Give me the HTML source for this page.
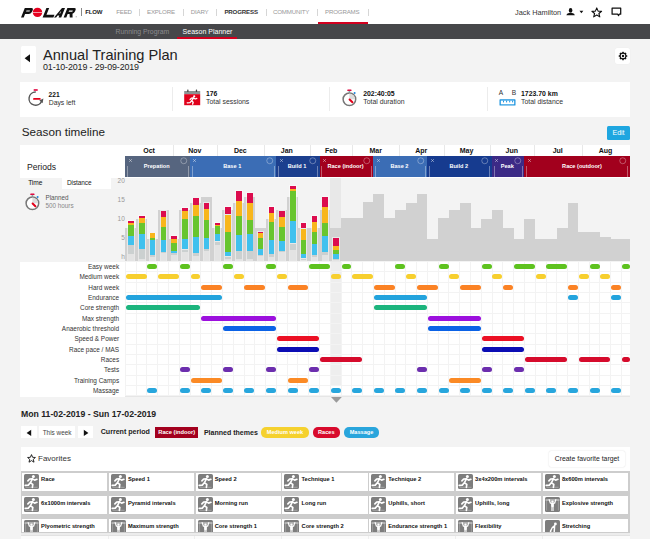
<!DOCTYPE html>
<html><head><meta charset="utf-8"><style>
html,body{margin:0;padding:0;}
body{width:650px;height:539px;overflow:hidden;position:relative;background:#f3f3f3;font-family:"Liberation Sans",sans-serif;}
.t{position:absolute;white-space:nowrap;}
.r{position:absolute;}
svg.r{overflow:visible;}
</style></head><body>
<div class="r" style="left:0.00px;top:0.00px;width:650.00px;height:24.00px;background:#ffffff;"></div>
<svg class="r" style="left:18.00px;top:7.90px;" width="64" height="10" viewBox="0 0 64 10">
<g transform="translate(0,9.4) skewX(-22) translate(0,-9.4)" fill="#111">
<path d="M3 0 H9.6 Q11.8 0 11.8 2.4 V3.6 Q11.8 6 9.6 6 H5.7 V9.4 H3 Z M5.7 2.5 V3.6 H9.2 V2.5 Z" fill-rule="evenodd"/>
<path d="M24.6 0 H27.4 V6.7 H35.4 V9.4 H24.6 Z"/>
<path d="M36 9.4 L40.2 0 H43.2 V9.4 H40.6 V7.6 H38.9 L38.1 9.4 Z M39.6 5.4 H40.6 V2.8 Z" fill-rule="evenodd"/>
<path d="M45.6 0 H52.6 Q54.6 0 54.6 2.3 V3.3 Q54.6 5.3 53 5.7 L54.6 9.4 H51.8 L50.2 6 H48.3 V9.4 H45.6 Z M48.3 2.4 V3.7 H52 V2.4 Z" fill-rule="evenodd"/>
</g>
<circle cx="19.5" cy="4.4" r="4.7" fill="#e5001f"/>
<rect x="14.6" y="4.1" width="9.8" height="0.6" fill="#fff"/>
<circle cx="58.2" cy="8.8" r="0.55" fill="#888"/>
</svg>
<div class="r" style="left:81.10px;top:8.20px;width:0.60px;height:7.60px;background:#888;"></div>
<div class="t" style="left:85.30px;top:9.18px;font-size:6.05px;line-height:6.05px;font-weight:700;color:#222;letter-spacing:-0.2px;">FLOW</div>
<div class="t" style="left:116.20px;top:9.09px;font-size:6.15px;line-height:6.15px;font-weight:400;color:#999;letter-spacing:-0.17px;">FEED</div>
<div class="t" style="left:147.00px;top:9.09px;font-size:6.15px;line-height:6.15px;font-weight:400;color:#999;letter-spacing:-0.17px;">EXPLORE</div>
<div class="t" style="left:190.70px;top:9.09px;font-size:6.15px;line-height:6.15px;font-weight:400;color:#999;letter-spacing:-0.17px;">DIARY</div>
<div class="t" style="left:224.40px;top:9.09px;font-size:6.15px;line-height:6.15px;font-weight:700;color:#333;letter-spacing:-0.17px;">PROGRESS</div>
<div class="t" style="left:272.90px;top:9.09px;font-size:6.15px;line-height:6.15px;font-weight:400;color:#999;letter-spacing:-0.17px;">COMMUNITY</div>
<div class="t" style="left:325.00px;top:9.09px;font-size:6.15px;line-height:6.15px;font-weight:400;color:#999;letter-spacing:-0.17px;">PROGRAMS</div>
<div class="r" style="left:139.30px;top:8.50px;width:0.70px;height:7.00px;background:#d6d6d6;"></div>
<div class="r" style="left:182.80px;top:8.50px;width:0.70px;height:7.00px;background:#d6d6d6;"></div>
<div class="r" style="left:216.00px;top:8.50px;width:0.70px;height:7.00px;background:#d6d6d6;"></div>
<div class="r" style="left:265.50px;top:8.50px;width:0.70px;height:7.00px;background:#d6d6d6;"></div>
<div class="r" style="left:317.20px;top:8.50px;width:0.70px;height:7.00px;background:#d6d6d6;"></div>
<div class="r" style="left:367.70px;top:8.50px;width:0.70px;height:7.00px;background:#d6d6d6;"></div>
<div class="r" style="left:318.00px;top:22.20px;width:49.50px;height:1.80px;background:#d3001f;"></div>
<div class="t" style="left:515.00px;top:8.78px;font-size:7.35px;line-height:7.35px;font-weight:400;color:#333;">Jack Hamilton</div>
<svg class="r" style="left:566.00px;top:8.20px;" width="10" height="8" viewBox="0 0 10 8"><ellipse cx="4.6" cy="2.4" rx="1.8" ry="2.3" fill="#111"/><path d="M0.4 7.2 Q0.6 5.2 3 4.9 L6.2 4.9 Q8.6 5.2 8.8 7.2 Z" fill="#111"/></svg>
<svg class="r" style="left:578.60px;top:10.00px;" width="5" height="4" viewBox="0 0 5 4"><path d="M0.5 0.8 L4.3 0.8 L2.4 3.2 Z" fill="#111"/></svg>
<svg class="r" style="left:591.00px;top:6.80px;" width="11.5" height="10.5" viewBox="0 0 11.5 10.5"><path d="M5.75 0.9 L7.1 4.1 L10.6 4.3 L7.9 6.5 L8.8 9.9 L5.75 8 L2.7 9.9 L3.6 6.5 L0.9 4.3 L4.4 4.1 Z" fill="none" stroke="#111" stroke-width="1.1" stroke-linejoin="round"/></svg>
<svg class="r" style="left:611.00px;top:7.00px;" width="11.5" height="10" viewBox="0 0 11.5 10"><path d="M1.1 1.1 H9.7 V7.2 H8.2 L7.6 8.6 L6.6 7.2 H1.1 Z" fill="none" stroke="#111" stroke-width="1.25" stroke-linejoin="round"/></svg>
<div class="r" style="left:0.00px;top:24.00px;width:650.00px;height:14.50px;background:#46474a;"></div>
<div class="t" style="left:115.60px;top:28.50px;font-size:6.85px;line-height:6.85px;font-weight:400;color:#8a8b8e;">Running Program</div>
<div class="t" style="left:182.60px;top:28.37px;font-size:7.0px;line-height:7.0px;font-weight:400;color:#ffffff;">Season Planner</div>
<div class="r" style="left:177.00px;top:37.00px;width:59.70px;height:1.50px;background:#d3001f;"></div>
<div class="r" style="left:20.50px;top:45.50px;width:15.00px;height:27.00px;background:#ffffff;border-radius:1.5px;"></div>
<svg class="r" style="left:24.00px;top:54.00px;" width="6.5" height="8.5" viewBox="0 0 6.5 8.5"><path d="M6 0.3 L6 8.2 L0.6 4.25 Z" fill="#111"/></svg>
<div class="t" style="left:43.00px;top:47.84px;font-size:14.6px;line-height:14.6px;font-weight:400;color:#222;">Annual Training Plan</div>
<div class="t" style="left:43.00px;top:62.57px;font-size:8.9px;line-height:8.9px;font-weight:400;color:#222;letter-spacing:-0.12px;">01-10-2019 - 29-09-2019</div>
<div class="r" style="left:615.00px;top:48.40px;width:15.00px;height:15.60px;background:#ffffff;border-radius:2px;box-shadow:0 0 1px rgba(0,0,0,0.08);"></div>
<svg class="r" style="left:615.00px;top:48.00px;" width="16" height="16" viewBox="0 0 16 16"><g transform="translate(8,8)"><rect x="-0.8" y="-4.3" width="1.6" height="1.6" rx="0.4" fill="#111" transform="rotate(0)"/><rect x="-0.8" y="-4.3" width="1.6" height="1.6" rx="0.4" fill="#111" transform="rotate(45)"/><rect x="-0.8" y="-4.3" width="1.6" height="1.6" rx="0.4" fill="#111" transform="rotate(90)"/><rect x="-0.8" y="-4.3" width="1.6" height="1.6" rx="0.4" fill="#111" transform="rotate(135)"/><rect x="-0.8" y="-4.3" width="1.6" height="1.6" rx="0.4" fill="#111" transform="rotate(180)"/><rect x="-0.8" y="-4.3" width="1.6" height="1.6" rx="0.4" fill="#111" transform="rotate(225)"/><rect x="-0.8" y="-4.3" width="1.6" height="1.6" rx="0.4" fill="#111" transform="rotate(270)"/><rect x="-0.8" y="-4.3" width="1.6" height="1.6" rx="0.4" fill="#111" transform="rotate(315)"/><circle r="2.9" fill="none" stroke="#111" stroke-width="1.1"/><circle r="1.2" fill="#111"/></g></svg>
<div class="r" style="left:20.30px;top:82.40px;width:609.40px;height:34.50px;background:#ffffff;"></div>
<div class="r" style="left:172.30px;top:87.40px;width:0.70px;height:23.60px;background:#ececec;"></div>
<div class="r" style="left:329.40px;top:87.40px;width:0.70px;height:23.60px;background:#ececec;"></div>
<div class="r" style="left:487.40px;top:87.40px;width:0.70px;height:23.60px;background:#ececec;"></div>
<svg class="r" style="left:27.00px;top:88.00px;" width="17" height="19" viewBox="0 0 17 19">
<rect x="6.7" y="1.2" width="4" height="1.6" fill="#e2003c"/>
<path d="M8.8 4 A6.6 6.6 0 1 0 14.6 13.4" fill="none" stroke="#555" stroke-width="1.4"/>
<path d="M12.3 12.6 L16.4 10.6 L15.6 15.2 Z" fill="#555"/>
<path d="M7 10.9 H12.8" stroke="#e2001a" stroke-width="1.9" stroke-linecap="round"/>
</svg>
<div class="t" style="left:48.50px;top:91.53px;font-size:6.7px;line-height:6.7px;font-weight:700;color:#111;">221</div>
<div class="t" style="left:48.70px;top:99.50px;font-size:6.85px;line-height:6.85px;font-weight:400;color:#333;">Days left</div>
<svg class="r" style="left:184.00px;top:89.00px;" width="16.5" height="16.5" viewBox="0 0 16.5 16.5">
<rect x="0.2" y="2" width="16" height="3.3" fill="#8a9393"/>
<rect x="3.2" y="0.5" width="1.3" height="2.6" rx="0.5" fill="#444"/>
<rect x="11.8" y="0.5" width="1.3" height="2.6" rx="0.5" fill="#444"/>
<rect x="0.2" y="5.2" width="16" height="11" fill="#e0001b"/>
<circle cx="10.2" cy="7.4" r="1.1" fill="#fff"/>
<path d="M9.6 8.8 L7.6 11.8 M9.5 9 L11.2 10 L12.8 9.4 M9.2 8.9 L7.4 9.1 L6.1 10.5 M7.6 11.8 L9.2 13.2 L8.6 15.2 M7.6 11.8 L6 13.7 L3.2 13.8" stroke="#fff" stroke-width="1.3" stroke-linecap="round" stroke-linejoin="round" fill="none"/>
</svg>
<div class="t" style="left:206.00px;top:91.44px;font-size:6.8px;line-height:6.8px;font-weight:700;color:#111;">176</div>
<div class="t" style="left:206.00px;top:99.46px;font-size:6.9px;line-height:6.9px;font-weight:400;color:#333;">Total sessions</div>
<svg class="r" style="left:342.20px;top:88.50px;" width="16" height="18" viewBox="0 0 16 18">
<rect x="5.3" y="0.5" width="4.2" height="1.6" rx="0.4" fill="#e2003c"/>
<rect x="6.6" y="1.9" width="1.6" height="1.5" fill="#8aa"/>
<circle cx="12.6" cy="4.1" r="1" fill="#1d86e0"/>
<circle cx="7.4" cy="10.3" r="6.3" fill="#fff" stroke="#777" stroke-width="1.5"/>
<path d="M7.4 10.3 V4.6 A5.7 5.7 0 0 1 13.1 10.3 Z" fill="#dcdcdc"/>
<path d="M7.6 10.5 L10.4 13.2" stroke="#e2001a" stroke-width="2" stroke-linecap="round"/>
</svg>
<div class="t" style="left:363.20px;top:91.36px;font-size:6.9px;line-height:6.9px;font-weight:700;color:#111;">202:40:05</div>
<div class="t" style="left:363.20px;top:99.46px;font-size:6.9px;line-height:6.9px;font-weight:400;color:#333;">Total duration</div>
<svg class="r" style="left:497.00px;top:89.00px;" width="21" height="18" viewBox="0 0 21 18">
<text x="1.7" y="6.1" font-family="Liberation Sans" font-size="6.6" fill="#333">A</text>
<text x="14.7" y="6.1" font-family="Liberation Sans" font-size="6.6" fill="#333">B</text>
<rect x="2.5" y="10.3" width="16" height="6.3" rx="0.6" fill="#1e95e0"/>
<rect x="3.8" y="11.6" width="13.4" height="3.7" fill="#fff"/>
<path d="M6.5 11.6 V13.4 M9.6 11.6 V13.4 M12.7 11.6 V13.4 M15.6 11.6 V13.4" stroke="#1e95e0" stroke-width="1"/>
</svg>
<div class="t" style="left:521.00px;top:91.36px;font-size:6.9px;line-height:6.9px;font-weight:700;color:#111;">1723.70 km</div>
<div class="t" style="left:521.00px;top:99.48px;font-size:6.87px;line-height:6.87px;font-weight:400;color:#333;">Total distance</div>
<div class="t" style="left:21.80px;top:125.80px;font-size:11.7px;line-height:11.7px;font-weight:400;color:#222;">Season timeline</div>
<div class="r" style="left:607.20px;top:125.60px;width:22.50px;height:14.40px;background:#1ea6e0;border-radius:1.5px;"></div>
<div class="t" style="left:418.50px;width:400px;text-align:center;top:129.27px;font-size:7px;line-height:7px;font-weight:400;color:#fff;">Edit</div>
<div class="r" style="left:20.30px;top:144.60px;width:609.40px;height:33.40px;background:#ffffff;"></div>
<div class="t" style="left:-50.90px;width:400px;text-align:center;top:146.67px;font-size:7px;line-height:7px;font-weight:700;color:#111;">Oct</div>
<div class="t" style="left:-5.10px;width:400px;text-align:center;top:146.67px;font-size:7px;line-height:7px;font-weight:700;color:#111;">Nov</div>
<div class="r" style="left:172.80px;top:144.60px;width:0.70px;height:11.00px;background:#e8e8e8;"></div>
<div class="t" style="left:40.30px;width:400px;text-align:center;top:146.67px;font-size:7px;line-height:7px;font-weight:700;color:#111;">Dec</div>
<div class="r" style="left:217.00px;top:144.60px;width:0.70px;height:11.00px;background:#e8e8e8;"></div>
<div class="t" style="left:86.80px;width:400px;text-align:center;top:146.67px;font-size:7px;line-height:7px;font-weight:700;color:#111;">Jan</div>
<div class="r" style="left:263.60px;top:144.60px;width:0.70px;height:11.00px;background:#e8e8e8;"></div>
<div class="t" style="left:131.15px;width:400px;text-align:center;top:146.67px;font-size:7px;line-height:7px;font-weight:700;color:#111;">Feb</div>
<div class="r" style="left:310.00px;top:144.60px;width:0.70px;height:11.00px;background:#e8e8e8;"></div>
<div class="t" style="left:175.65px;width:400px;text-align:center;top:146.67px;font-size:7px;line-height:7px;font-weight:700;color:#111;">Mar</div>
<div class="r" style="left:352.30px;top:144.60px;width:0.70px;height:11.00px;background:#e8e8e8;"></div>
<div class="t" style="left:221.25px;width:400px;text-align:center;top:146.67px;font-size:7px;line-height:7px;font-weight:700;color:#111;">Apr</div>
<div class="r" style="left:399.00px;top:144.60px;width:0.70px;height:11.00px;background:#e8e8e8;"></div>
<div class="t" style="left:266.50px;width:400px;text-align:center;top:146.67px;font-size:7px;line-height:7px;font-weight:700;color:#111;">May</div>
<div class="r" style="left:443.50px;top:144.60px;width:0.70px;height:11.00px;background:#e8e8e8;"></div>
<div class="t" style="left:311.75px;width:400px;text-align:center;top:146.67px;font-size:7px;line-height:7px;font-weight:700;color:#111;">Jun</div>
<div class="r" style="left:489.50px;top:144.60px;width:0.70px;height:11.00px;background:#e8e8e8;"></div>
<div class="t" style="left:357.75px;width:400px;text-align:center;top:146.67px;font-size:7px;line-height:7px;font-weight:700;color:#111;">Jul</div>
<div class="r" style="left:534.00px;top:144.60px;width:0.70px;height:11.00px;background:#e8e8e8;"></div>
<div class="t" style="left:405.60px;width:400px;text-align:center;top:146.67px;font-size:7px;line-height:7px;font-weight:700;color:#111;">Aug</div>
<div class="r" style="left:581.50px;top:144.60px;width:0.70px;height:11.00px;background:#e8e8e8;"></div>
<div class="t" style="left:27.00px;top:162.62px;font-size:8.6px;line-height:8.6px;font-weight:400;color:#222;">Periods</div>
<div class="r" style="left:125.40px;top:155.50px;width:64.71px;height:21.30px;background:#56657f;"></div>
<div class="t" style="left:-43.25px;width:400px;text-align:center;top:163.76px;font-size:5.6px;line-height:5.6px;font-weight:700;color:#fff;">Prepation</div>
<svg class="r" style="left:127.60px;top:157.60px;" width="5" height="5" viewBox="0 0 5 5"><path d="M1 1 L4 4 M4 1 L1 4" stroke="rgba(255,255,255,0.55)" stroke-width="0.7"/></svg>
<svg class="r" style="left:179.51px;top:156.80px;" width="7.5" height="7.5" viewBox="0 0 7.5 7.5"><circle cx="3.75" cy="3.75" r="3" fill="none" stroke="rgba(255,255,255,0.45)" stroke-width="0.7"/></svg>
<div class="r" style="left:127.20px;top:166.00px;width:0.70px;height:10.50px;background:rgba(255,255,255,0.35);"></div>
<div class="r" style="left:187.51px;top:166.00px;width:0.70px;height:10.50px;background:rgba(255,255,255,0.35);"></div>
<div class="r" style="left:190.11px;top:155.50px;width:86.28px;height:21.30px;background:#3b6db5;"></div>
<div class="t" style="left:32.25px;width:400px;text-align:center;top:163.76px;font-size:5.6px;line-height:5.6px;font-weight:700;color:#fff;">Base 1</div>
<svg class="r" style="left:192.31px;top:157.60px;" width="5" height="5" viewBox="0 0 5 5"><path d="M1 1 L4 4 M4 1 L1 4" stroke="rgba(255,255,255,0.55)" stroke-width="0.7"/></svg>
<svg class="r" style="left:265.79px;top:156.80px;" width="7.5" height="7.5" viewBox="0 0 7.5 7.5"><circle cx="3.75" cy="3.75" r="3" fill="none" stroke="rgba(255,255,255,0.45)" stroke-width="0.7"/></svg>
<div class="r" style="left:191.91px;top:166.00px;width:0.70px;height:10.50px;background:rgba(255,255,255,0.35);"></div>
<div class="r" style="left:273.79px;top:166.00px;width:0.70px;height:10.50px;background:rgba(255,255,255,0.35);"></div>
<div class="r" style="left:276.39px;top:155.50px;width:43.14px;height:21.30px;background:#1c3f8e;"></div>
<div class="t" style="left:96.96px;width:400px;text-align:center;top:163.76px;font-size:5.6px;line-height:5.6px;font-weight:700;color:#fff;">Build 1</div>
<svg class="r" style="left:278.59px;top:157.60px;" width="5" height="5" viewBox="0 0 5 5"><path d="M1 1 L4 4 M4 1 L1 4" stroke="rgba(255,255,255,0.55)" stroke-width="0.7"/></svg>
<svg class="r" style="left:308.93px;top:156.80px;" width="7.5" height="7.5" viewBox="0 0 7.5 7.5"><circle cx="3.75" cy="3.75" r="3" fill="none" stroke="rgba(255,255,255,0.45)" stroke-width="0.7"/></svg>
<div class="r" style="left:278.19px;top:166.00px;width:0.70px;height:10.50px;background:rgba(255,255,255,0.35);"></div>
<div class="r" style="left:316.93px;top:166.00px;width:0.70px;height:10.50px;background:rgba(255,255,255,0.35);"></div>
<div class="r" style="left:319.53px;top:155.50px;width:53.93px;height:21.30px;background:#a2001d;"></div>
<div class="t" style="left:145.49px;width:400px;text-align:center;top:163.76px;font-size:5.6px;line-height:5.6px;font-weight:700;color:#fff;">Race (indoor)</div>
<svg class="r" style="left:321.73px;top:157.60px;" width="5" height="5" viewBox="0 0 5 5"><path d="M1 1 L4 4 M4 1 L1 4" stroke="rgba(255,255,255,0.55)" stroke-width="0.7"/></svg>
<svg class="r" style="left:362.86px;top:156.80px;" width="7.5" height="7.5" viewBox="0 0 7.5 7.5"><circle cx="3.75" cy="3.75" r="3" fill="none" stroke="rgba(255,255,255,0.45)" stroke-width="0.7"/></svg>
<div class="r" style="left:321.33px;top:166.00px;width:0.70px;height:10.50px;background:rgba(255,255,255,0.35);"></div>
<div class="r" style="left:370.86px;top:166.00px;width:0.70px;height:10.50px;background:rgba(255,255,255,0.35);"></div>
<div class="r" style="left:373.46px;top:155.50px;width:53.92px;height:21.30px;background:#3b6db5;"></div>
<div class="t" style="left:199.42px;width:400px;text-align:center;top:163.76px;font-size:5.6px;line-height:5.6px;font-weight:700;color:#fff;">Base 2</div>
<svg class="r" style="left:375.66px;top:157.60px;" width="5" height="5" viewBox="0 0 5 5"><path d="M1 1 L4 4 M4 1 L1 4" stroke="rgba(255,255,255,0.55)" stroke-width="0.7"/></svg>
<svg class="r" style="left:416.78px;top:156.80px;" width="7.5" height="7.5" viewBox="0 0 7.5 7.5"><circle cx="3.75" cy="3.75" r="3" fill="none" stroke="rgba(255,255,255,0.45)" stroke-width="0.7"/></svg>
<div class="r" style="left:375.26px;top:166.00px;width:0.70px;height:10.50px;background:rgba(255,255,255,0.35);"></div>
<div class="r" style="left:424.78px;top:166.00px;width:0.70px;height:10.50px;background:rgba(255,255,255,0.35);"></div>
<div class="r" style="left:427.38px;top:155.50px;width:64.71px;height:21.30px;background:#163b8f;"></div>
<div class="t" style="left:258.74px;width:400px;text-align:center;top:163.76px;font-size:5.6px;line-height:5.6px;font-weight:700;color:#fff;">Build 2</div>
<svg class="r" style="left:429.58px;top:157.60px;" width="5" height="5" viewBox="0 0 5 5"><path d="M1 1 L4 4 M4 1 L1 4" stroke="rgba(255,255,255,0.55)" stroke-width="0.7"/></svg>
<svg class="r" style="left:481.49px;top:156.80px;" width="7.5" height="7.5" viewBox="0 0 7.5 7.5"><circle cx="3.75" cy="3.75" r="3" fill="none" stroke="rgba(255,255,255,0.45)" stroke-width="0.7"/></svg>
<div class="r" style="left:429.18px;top:166.00px;width:0.70px;height:10.50px;background:rgba(255,255,255,0.35);"></div>
<div class="r" style="left:489.49px;top:166.00px;width:0.70px;height:10.50px;background:rgba(255,255,255,0.35);"></div>
<div class="r" style="left:492.09px;top:155.50px;width:32.36px;height:21.30px;background:#3c2a86;"></div>
<div class="t" style="left:307.27px;width:400px;text-align:center;top:163.76px;font-size:5.6px;line-height:5.6px;font-weight:700;color:#fff;">Peak</div>
<svg class="r" style="left:494.29px;top:157.60px;" width="5" height="5" viewBox="0 0 5 5"><path d="M1 1 L4 4 M4 1 L1 4" stroke="rgba(255,255,255,0.55)" stroke-width="0.7"/></svg>
<svg class="r" style="left:513.85px;top:156.80px;" width="7.5" height="7.5" viewBox="0 0 7.5 7.5"><circle cx="3.75" cy="3.75" r="3" fill="none" stroke="rgba(255,255,255,0.45)" stroke-width="0.7"/></svg>
<div class="r" style="left:493.89px;top:166.00px;width:0.70px;height:10.50px;background:rgba(255,255,255,0.35);"></div>
<div class="r" style="left:521.85px;top:166.00px;width:0.70px;height:10.50px;background:rgba(255,255,255,0.35);"></div>
<div class="r" style="left:524.45px;top:155.50px;width:105.25px;height:21.30px;background:#a2001d;"></div>
<div class="t" style="left:382.00px;width:400px;text-align:center;top:163.76px;font-size:5.6px;line-height:5.6px;font-weight:700;color:#fff;">Race (outdoor)</div>
<svg class="r" style="left:526.65px;top:157.60px;" width="5" height="5" viewBox="0 0 5 5"><path d="M1 1 L4 4 M4 1 L1 4" stroke="rgba(255,255,255,0.55)" stroke-width="0.7"/></svg>
<svg class="r" style="left:619.10px;top:156.80px;" width="7.5" height="7.5" viewBox="0 0 7.5 7.5"><circle cx="3.75" cy="3.75" r="3" fill="none" stroke="rgba(255,255,255,0.45)" stroke-width="0.7"/></svg>
<div class="r" style="left:526.25px;top:166.00px;width:0.70px;height:10.50px;background:rgba(255,255,255,0.35);"></div>
<div class="r" style="left:627.10px;top:166.00px;width:0.70px;height:10.50px;background:rgba(255,255,255,0.35);"></div>
<div class="r" style="left:61.50px;top:176.40px;width:49.50px;height:12.60px;background:#ffffff;"></div>
<div class="t" style="left:28.20px;top:179.91px;font-size:6.6px;line-height:6.6px;font-weight:400;color:#111;letter-spacing:-0.1px;">Time</div>
<div class="t" style="left:67.00px;top:180.00px;font-size:6.5px;line-height:6.5px;font-weight:400;color:#222;letter-spacing:-0.1px;">Distance</div>
<svg class="r" style="left:25.30px;top:192.50px;" width="16" height="18" viewBox="0 0 16 18">
<rect x="5.3" y="0.5" width="4.2" height="1.6" rx="0.4" fill="#e2003c"/>
<rect x="6.6" y="1.9" width="1.6" height="1.5" fill="#8aa"/>
<circle cx="12.6" cy="4.1" r="1" fill="#1d86e0"/>
<circle cx="7.4" cy="10.3" r="6.3" fill="#fff" stroke="#777" stroke-width="1.5"/>
<path d="M7.4 10.3 V4.6 A5.7 5.7 0 0 1 13.1 10.3 Z" fill="#dcdcdc"/>
<path d="M7.6 10.5 L10.4 13.2" stroke="#e2001a" stroke-width="2" stroke-linecap="round"/>
</svg>
<div class="t" style="left:45.50px;top:195.07px;font-size:6.3px;line-height:6.3px;font-weight:400;color:#555;">Planned</div>
<div class="t" style="left:45.50px;top:202.63px;font-size:6.34px;line-height:6.34px;font-weight:400;color:#888;">500 hours</div>
<div class="t" style="left:-275.20px;width:400px;text-align:right;top:177.70px;font-size:6.5px;line-height:6.5px;font-weight:400;color:#999;">20</div>
<div class="t" style="left:-275.20px;width:400px;text-align:right;top:196.90px;font-size:6.5px;line-height:6.5px;font-weight:400;color:#999;">15</div>
<div class="t" style="left:-275.20px;width:400px;text-align:right;top:216.00px;font-size:6.5px;line-height:6.5px;font-weight:400;color:#999;">10</div>
<div class="t" style="left:-275.20px;width:400px;text-align:right;top:235.30px;font-size:6.5px;line-height:6.5px;font-weight:400;color:#999;">5</div>
<div class="t" style="left:-275.20px;width:400px;text-align:right;top:253.80px;font-size:6.5px;line-height:6.5px;font-weight:400;color:#999;">h</div>
<div class="r" style="left:330.31px;top:178.00px;width:10.79px;height:218.00px;background:#e8e8e8;"></div>
<div class="r" style="left:125.40px;top:227.90px;width:10.79px;height:32.90px;background:#d1d1d1;"></div>
<div class="r" style="left:136.19px;top:218.50px;width:10.79px;height:42.30px;background:#d1d1d1;"></div>
<div class="r" style="left:146.97px;top:238.70px;width:10.79px;height:22.10px;background:#d1d1d1;"></div>
<div class="r" style="left:157.75px;top:209.70px;width:10.79px;height:51.10px;background:#d1d1d1;"></div>
<div class="r" style="left:168.54px;top:238.70px;width:10.79px;height:22.10px;background:#d1d1d1;"></div>
<div class="r" style="left:179.32px;top:209.70px;width:10.79px;height:51.10px;background:#d1d1d1;"></div>
<div class="r" style="left:190.11px;top:203.20px;width:10.79px;height:57.60px;background:#d1d1d1;"></div>
<div class="r" style="left:200.90px;top:196.80px;width:10.79px;height:64.00px;background:#d1d1d1;"></div>
<div class="r" style="left:211.68px;top:228.20px;width:10.79px;height:32.60px;background:#d1d1d1;"></div>
<div class="r" style="left:222.47px;top:209.70px;width:10.79px;height:51.10px;background:#d1d1d1;"></div>
<div class="r" style="left:233.25px;top:202.70px;width:10.79px;height:58.10px;background:#d1d1d1;"></div>
<div class="r" style="left:244.04px;top:196.80px;width:10.79px;height:64.00px;background:#d1d1d1;"></div>
<div class="r" style="left:254.82px;top:227.90px;width:10.79px;height:32.90px;background:#d1d1d1;"></div>
<div class="r" style="left:265.61px;top:218.50px;width:10.79px;height:42.30px;background:#d1d1d1;"></div>
<div class="r" style="left:276.39px;top:209.70px;width:10.79px;height:51.10px;background:#d1d1d1;"></div>
<div class="r" style="left:287.18px;top:196.80px;width:10.79px;height:64.00px;background:#d1d1d1;"></div>
<div class="r" style="left:297.96px;top:227.90px;width:10.79px;height:32.90px;background:#d1d1d1;"></div>
<div class="r" style="left:308.75px;top:227.90px;width:10.79px;height:32.90px;background:#d1d1d1;"></div>
<div class="r" style="left:319.53px;top:209.70px;width:10.79px;height:51.10px;background:#d1d1d1;"></div>
<div class="r" style="left:330.31px;top:227.90px;width:10.79px;height:32.90px;background:#d1d1d1;"></div>
<div class="r" style="left:341.10px;top:218.40px;width:10.79px;height:42.40px;background:#d1d1d1;"></div>
<div class="r" style="left:351.88px;top:218.40px;width:10.79px;height:42.40px;background:#d1d1d1;"></div>
<div class="r" style="left:362.67px;top:202.20px;width:10.79px;height:58.60px;background:#d1d1d1;"></div>
<div class="r" style="left:373.46px;top:194.20px;width:10.79px;height:66.60px;background:#d1d1d1;"></div>
<div class="r" style="left:384.24px;top:218.40px;width:10.79px;height:42.40px;background:#d1d1d1;"></div>
<div class="r" style="left:395.02px;top:210.10px;width:10.79px;height:50.70px;background:#d1d1d1;"></div>
<div class="r" style="left:405.81px;top:202.70px;width:10.79px;height:58.10px;background:#d1d1d1;"></div>
<div class="r" style="left:416.60px;top:194.20px;width:10.79px;height:66.60px;background:#d1d1d1;"></div>
<div class="r" style="left:427.38px;top:238.50px;width:10.79px;height:22.30px;background:#d1d1d1;"></div>
<div class="r" style="left:438.16px;top:218.40px;width:10.79px;height:42.40px;background:#d1d1d1;"></div>
<div class="r" style="left:448.95px;top:210.10px;width:10.79px;height:50.70px;background:#d1d1d1;"></div>
<div class="r" style="left:459.74px;top:202.70px;width:10.79px;height:58.10px;background:#d1d1d1;"></div>
<div class="r" style="left:470.52px;top:227.60px;width:10.79px;height:33.20px;background:#d1d1d1;"></div>
<div class="r" style="left:481.31px;top:218.50px;width:10.79px;height:42.30px;background:#d1d1d1;"></div>
<div class="r" style="left:492.09px;top:210.00px;width:10.79px;height:50.80px;background:#d1d1d1;"></div>
<div class="r" style="left:502.88px;top:227.90px;width:10.79px;height:32.90px;background:#d1d1d1;"></div>
<div class="r" style="left:513.66px;top:238.90px;width:10.79px;height:21.90px;background:#d1d1d1;"></div>
<div class="r" style="left:524.45px;top:218.60px;width:10.79px;height:42.20px;background:#d1d1d1;"></div>
<div class="r" style="left:535.23px;top:238.90px;width:10.79px;height:21.90px;background:#d1d1d1;"></div>
<div class="r" style="left:546.01px;top:238.90px;width:10.79px;height:21.90px;background:#d1d1d1;"></div>
<div class="r" style="left:556.80px;top:227.90px;width:10.79px;height:32.90px;background:#d1d1d1;"></div>
<div class="r" style="left:567.59px;top:202.90px;width:10.79px;height:57.90px;background:#d1d1d1;"></div>
<div class="r" style="left:578.37px;top:231.70px;width:10.79px;height:29.10px;background:#d1d1d1;"></div>
<div class="r" style="left:589.15px;top:231.70px;width:10.79px;height:29.10px;background:#d1d1d1;"></div>
<div class="r" style="left:599.94px;top:237.00px;width:10.79px;height:23.80px;background:#d1d1d1;"></div>
<div class="r" style="left:610.73px;top:238.90px;width:10.79px;height:21.90px;background:#d1d1d1;"></div>
<div class="r" style="left:621.51px;top:238.90px;width:8.19px;height:21.90px;background:#d1d1d1;"></div>
<div class="r" style="left:127.40px;top:220.10px;width:7.40px;height:40.70px;background:rgba(255,255,255,0.5);"></div>
<div class="r" style="left:128.30px;top:221.00px;width:5.60px;height:2.40px;background:#dc0c4e;"></div>
<div class="r" style="left:128.30px;top:223.40px;width:5.60px;height:1.60px;background:#f8b61c;"></div>
<div class="r" style="left:128.30px;top:225.00px;width:5.60px;height:10.50px;background:#68c52e;"></div>
<div class="r" style="left:128.30px;top:235.50px;width:5.60px;height:9.70px;background:#40c1ee;"></div>
<div class="r" style="left:128.30px;top:245.20px;width:5.60px;height:8.80px;background:#cbd0d0;"></div>
<div class="r" style="left:128.30px;top:254.00px;width:5.60px;height:6.80px;background:#e3e3e3;"></div>
<div class="r" style="left:138.19px;top:214.70px;width:7.40px;height:46.10px;background:rgba(255,255,255,0.5);"></div>
<div class="r" style="left:139.09px;top:215.60px;width:5.60px;height:2.10px;background:#dc0c4e;"></div>
<div class="r" style="left:139.09px;top:217.70px;width:5.60px;height:5.70px;background:#f8b61c;"></div>
<div class="r" style="left:139.09px;top:223.40px;width:5.60px;height:11.00px;background:#68c52e;"></div>
<div class="r" style="left:139.09px;top:234.40px;width:5.60px;height:14.80px;background:#40c1ee;"></div>
<div class="r" style="left:139.09px;top:249.20px;width:5.60px;height:9.70px;background:#cbd0d0;"></div>
<div class="r" style="left:139.09px;top:258.90px;width:5.60px;height:1.90px;background:#e3e3e3;"></div>
<div class="r" style="left:148.97px;top:232.50px;width:7.40px;height:28.30px;background:rgba(255,255,255,0.5);"></div>
<div class="r" style="left:149.87px;top:233.40px;width:5.60px;height:4.20px;background:#f8b61c;"></div>
<div class="r" style="left:149.87px;top:237.60px;width:5.60px;height:2.70px;background:#68c52e;"></div>
<div class="r" style="left:149.87px;top:240.30px;width:5.60px;height:14.50px;background:#40c1ee;"></div>
<div class="r" style="left:149.87px;top:254.80px;width:5.60px;height:2.50px;background:#cbd0d0;"></div>
<div class="r" style="left:149.87px;top:257.30px;width:5.60px;height:3.50px;background:#e3e3e3;"></div>
<div class="r" style="left:159.75px;top:209.60px;width:7.40px;height:51.20px;background:rgba(255,255,255,0.5);"></div>
<div class="r" style="left:160.66px;top:210.50px;width:5.60px;height:6.50px;background:#dc0c4e;"></div>
<div class="r" style="left:160.66px;top:217.00px;width:5.60px;height:10.00px;background:#f8b61c;"></div>
<div class="r" style="left:160.66px;top:227.00px;width:5.60px;height:12.80px;background:#68c52e;"></div>
<div class="r" style="left:160.66px;top:239.80px;width:5.60px;height:11.80px;background:#40c1ee;"></div>
<div class="r" style="left:160.66px;top:251.60px;width:5.60px;height:0.90px;background:#cbd0d0;"></div>
<div class="r" style="left:160.66px;top:252.50px;width:5.60px;height:8.30px;background:#e3e3e3;"></div>
<div class="r" style="left:170.54px;top:234.60px;width:7.40px;height:26.20px;background:rgba(255,255,255,0.5);"></div>
<div class="r" style="left:171.44px;top:235.50px;width:5.60px;height:3.20px;background:#dc0c4e;"></div>
<div class="r" style="left:171.44px;top:238.70px;width:5.60px;height:4.00px;background:#f8b61c;"></div>
<div class="r" style="left:171.44px;top:242.70px;width:5.60px;height:8.10px;background:#68c52e;"></div>
<div class="r" style="left:171.44px;top:250.80px;width:5.60px;height:2.40px;background:#40c1ee;"></div>
<div class="r" style="left:171.44px;top:253.20px;width:5.60px;height:1.80px;background:#cbd0d0;"></div>
<div class="r" style="left:171.44px;top:255.00px;width:5.60px;height:5.80px;background:#e3e3e3;"></div>
<div class="r" style="left:181.32px;top:206.80px;width:7.40px;height:54.00px;background:rgba(255,255,255,0.5);"></div>
<div class="r" style="left:182.22px;top:207.70px;width:5.60px;height:3.10px;background:#dc0c4e;"></div>
<div class="r" style="left:182.22px;top:210.80px;width:5.60px;height:8.20px;background:#f8b61c;"></div>
<div class="r" style="left:182.22px;top:219.00px;width:5.60px;height:19.70px;background:#68c52e;"></div>
<div class="r" style="left:182.22px;top:238.70px;width:5.60px;height:10.80px;background:#40c1ee;"></div>
<div class="r" style="left:182.22px;top:249.50px;width:5.60px;height:2.10px;background:#cbd0d0;"></div>
<div class="r" style="left:182.22px;top:251.60px;width:5.60px;height:9.20px;background:#e3e3e3;"></div>
<div class="r" style="left:192.11px;top:197.50px;width:7.40px;height:63.30px;background:rgba(255,255,255,0.5);"></div>
<div class="r" style="left:193.01px;top:198.40px;width:5.60px;height:6.90px;background:#dc0c4e;"></div>
<div class="r" style="left:193.01px;top:205.30px;width:5.60px;height:10.30px;background:#f8b61c;"></div>
<div class="r" style="left:193.01px;top:215.60px;width:5.60px;height:21.20px;background:#68c52e;"></div>
<div class="r" style="left:193.01px;top:236.80px;width:5.60px;height:16.40px;background:#40c1ee;"></div>
<div class="r" style="left:193.01px;top:253.20px;width:5.60px;height:2.80px;background:#cbd0d0;"></div>
<div class="r" style="left:193.01px;top:256.00px;width:5.60px;height:4.80px;background:#e3e3e3;"></div>
<div class="r" style="left:202.90px;top:201.80px;width:7.40px;height:59.00px;background:rgba(255,255,255,0.5);"></div>
<div class="r" style="left:203.80px;top:202.70px;width:5.60px;height:6.50px;background:#dc0c4e;"></div>
<div class="r" style="left:203.80px;top:209.20px;width:5.60px;height:11.00px;background:#f8b61c;"></div>
<div class="r" style="left:203.80px;top:220.20px;width:5.60px;height:17.40px;background:#68c52e;"></div>
<div class="r" style="left:203.80px;top:237.60px;width:5.60px;height:11.60px;background:#40c1ee;"></div>
<div class="r" style="left:203.80px;top:249.20px;width:5.60px;height:1.60px;background:#cbd0d0;"></div>
<div class="r" style="left:203.80px;top:250.80px;width:5.60px;height:10.00px;background:#e3e3e3;"></div>
<div class="r" style="left:213.68px;top:221.80px;width:7.40px;height:39.00px;background:rgba(255,255,255,0.5);"></div>
<div class="r" style="left:214.58px;top:222.70px;width:5.60px;height:2.00px;background:#dc0c4e;"></div>
<div class="r" style="left:214.58px;top:224.70px;width:5.60px;height:1.10px;background:#f8b61c;"></div>
<div class="r" style="left:214.58px;top:225.80px;width:5.60px;height:8.10px;background:#68c52e;"></div>
<div class="r" style="left:214.58px;top:233.90px;width:5.60px;height:7.60px;background:#40c1ee;"></div>
<div class="r" style="left:214.58px;top:241.50px;width:5.60px;height:3.20px;background:#cbd0d0;"></div>
<div class="r" style="left:214.58px;top:244.70px;width:5.60px;height:16.10px;background:#e3e3e3;"></div>
<div class="r" style="left:224.47px;top:206.00px;width:7.40px;height:54.80px;background:rgba(255,255,255,0.5);"></div>
<div class="r" style="left:225.37px;top:206.90px;width:5.60px;height:7.60px;background:#dc0c4e;"></div>
<div class="r" style="left:225.37px;top:214.50px;width:5.60px;height:17.00px;background:#f8b61c;"></div>
<div class="r" style="left:225.37px;top:231.50px;width:5.60px;height:20.10px;background:#68c52e;"></div>
<div class="r" style="left:225.37px;top:251.60px;width:5.60px;height:4.90px;background:#40c1ee;"></div>
<div class="r" style="left:225.37px;top:256.50px;width:5.60px;height:2.50px;background:#cbd0d0;"></div>
<div class="r" style="left:225.37px;top:259.00px;width:5.60px;height:1.80px;background:#e3e3e3;"></div>
<div class="r" style="left:235.25px;top:190.20px;width:7.40px;height:70.60px;background:rgba(255,255,255,0.5);"></div>
<div class="r" style="left:236.15px;top:191.10px;width:5.60px;height:9.70px;background:#dc0c4e;"></div>
<div class="r" style="left:236.15px;top:200.80px;width:5.60px;height:15.30px;background:#f8b61c;"></div>
<div class="r" style="left:236.15px;top:216.10px;width:5.60px;height:18.60px;background:#68c52e;"></div>
<div class="r" style="left:236.15px;top:234.70px;width:5.60px;height:16.10px;background:#40c1ee;"></div>
<div class="r" style="left:236.15px;top:250.80px;width:5.60px;height:8.20px;background:#cbd0d0;"></div>
<div class="r" style="left:236.15px;top:259.00px;width:5.60px;height:1.80px;background:#e3e3e3;"></div>
<div class="r" style="left:246.04px;top:191.80px;width:7.40px;height:69.00px;background:rgba(255,255,255,0.5);"></div>
<div class="r" style="left:246.94px;top:192.70px;width:5.60px;height:10.00px;background:#dc0c4e;"></div>
<div class="r" style="left:246.94px;top:202.70px;width:5.60px;height:17.10px;background:#f8b61c;"></div>
<div class="r" style="left:246.94px;top:219.80px;width:5.60px;height:14.60px;background:#68c52e;"></div>
<div class="r" style="left:246.94px;top:234.40px;width:5.60px;height:16.40px;background:#40c1ee;"></div>
<div class="r" style="left:246.94px;top:250.80px;width:5.60px;height:8.20px;background:#cbd0d0;"></div>
<div class="r" style="left:246.94px;top:259.00px;width:5.60px;height:1.80px;background:#e3e3e3;"></div>
<div class="r" style="left:256.82px;top:230.60px;width:7.40px;height:30.20px;background:rgba(255,255,255,0.5);"></div>
<div class="r" style="left:257.72px;top:231.50px;width:5.60px;height:1.60px;background:#dc0c4e;"></div>
<div class="r" style="left:257.72px;top:233.10px;width:5.60px;height:4.80px;background:#f8b61c;"></div>
<div class="r" style="left:257.72px;top:237.90px;width:5.60px;height:11.00px;background:#68c52e;"></div>
<div class="r" style="left:257.72px;top:248.90px;width:5.60px;height:5.90px;background:#40c1ee;"></div>
<div class="r" style="left:257.72px;top:254.80px;width:5.60px;height:0.80px;background:#cbd0d0;"></div>
<div class="r" style="left:257.72px;top:255.60px;width:5.60px;height:5.20px;background:#e3e3e3;"></div>
<div class="r" style="left:267.61px;top:206.00px;width:7.40px;height:54.80px;background:rgba(255,255,255,0.5);"></div>
<div class="r" style="left:268.50px;top:206.90px;width:5.60px;height:6.00px;background:#dc0c4e;"></div>
<div class="r" style="left:268.50px;top:212.90px;width:5.60px;height:8.90px;background:#f8b61c;"></div>
<div class="r" style="left:268.50px;top:221.80px;width:5.60px;height:18.50px;background:#68c52e;"></div>
<div class="r" style="left:268.50px;top:240.30px;width:5.60px;height:14.10px;background:#40c1ee;"></div>
<div class="r" style="left:268.50px;top:254.40px;width:5.60px;height:2.60px;background:#cbd0d0;"></div>
<div class="r" style="left:268.50px;top:257.00px;width:5.60px;height:3.80px;background:#e3e3e3;"></div>
<div class="r" style="left:278.39px;top:210.40px;width:7.40px;height:50.40px;background:rgba(255,255,255,0.5);"></div>
<div class="r" style="left:279.29px;top:211.30px;width:5.60px;height:5.60px;background:#dc0c4e;"></div>
<div class="r" style="left:279.29px;top:216.90px;width:5.60px;height:9.70px;background:#f8b61c;"></div>
<div class="r" style="left:279.29px;top:226.60px;width:5.60px;height:14.50px;background:#68c52e;"></div>
<div class="r" style="left:279.29px;top:241.10px;width:5.60px;height:9.70px;background:#40c1ee;"></div>
<div class="r" style="left:279.29px;top:250.80px;width:5.60px;height:1.60px;background:#cbd0d0;"></div>
<div class="r" style="left:279.29px;top:252.40px;width:5.60px;height:8.40px;background:#e3e3e3;"></div>
<div class="r" style="left:289.18px;top:184.60px;width:7.40px;height:76.20px;background:rgba(255,255,255,0.5);"></div>
<div class="r" style="left:290.07px;top:185.50px;width:5.60px;height:3.70px;background:#dc0c4e;"></div>
<div class="r" style="left:290.07px;top:189.20px;width:5.60px;height:1.90px;background:#f8b61c;"></div>
<div class="r" style="left:290.07px;top:191.10px;width:5.60px;height:29.50px;background:#68c52e;"></div>
<div class="r" style="left:290.07px;top:220.60px;width:5.60px;height:22.90px;background:#40c1ee;"></div>
<div class="r" style="left:290.07px;top:243.50px;width:5.60px;height:6.00px;background:#cbd0d0;"></div>
<div class="r" style="left:290.07px;top:249.50px;width:5.60px;height:11.30px;background:#e3e3e3;"></div>
<div class="r" style="left:299.96px;top:222.20px;width:7.40px;height:38.60px;background:rgba(255,255,255,0.5);"></div>
<div class="r" style="left:300.86px;top:223.10px;width:5.60px;height:5.40px;background:#dc0c4e;"></div>
<div class="r" style="left:300.86px;top:228.50px;width:5.60px;height:11.80px;background:#f8b61c;"></div>
<div class="r" style="left:300.86px;top:240.30px;width:5.60px;height:14.10px;background:#68c52e;"></div>
<div class="r" style="left:300.86px;top:254.40px;width:5.60px;height:4.10px;background:#40c1ee;"></div>
<div class="r" style="left:300.86px;top:258.50px;width:5.60px;height:1.00px;background:#cbd0d0;"></div>
<div class="r" style="left:300.86px;top:259.50px;width:5.60px;height:1.30px;background:#e3e3e3;"></div>
<div class="r" style="left:310.75px;top:214.90px;width:7.40px;height:45.90px;background:rgba(255,255,255,0.5);"></div>
<div class="r" style="left:311.64px;top:215.80px;width:5.60px;height:6.30px;background:#dc0c4e;"></div>
<div class="r" style="left:311.64px;top:222.10px;width:5.60px;height:9.70px;background:#f8b61c;"></div>
<div class="r" style="left:311.64px;top:231.80px;width:5.60px;height:12.20px;background:#68c52e;"></div>
<div class="r" style="left:311.64px;top:244.00px;width:5.60px;height:10.80px;background:#40c1ee;"></div>
<div class="r" style="left:311.64px;top:254.80px;width:5.60px;height:2.20px;background:#cbd0d0;"></div>
<div class="r" style="left:311.64px;top:257.00px;width:5.60px;height:3.80px;background:#e3e3e3;"></div>
<div class="r" style="left:321.53px;top:195.90px;width:7.40px;height:64.90px;background:rgba(255,255,255,0.5);"></div>
<div class="r" style="left:322.43px;top:196.80px;width:5.60px;height:10.10px;background:#dc0c4e;"></div>
<div class="r" style="left:322.43px;top:206.90px;width:5.60px;height:15.70px;background:#f8b61c;"></div>
<div class="r" style="left:322.43px;top:222.60px;width:5.60px;height:13.40px;background:#68c52e;"></div>
<div class="r" style="left:322.43px;top:236.00px;width:5.60px;height:16.10px;background:#40c1ee;"></div>
<div class="r" style="left:322.43px;top:252.10px;width:5.60px;height:2.90px;background:#cbd0d0;"></div>
<div class="r" style="left:322.43px;top:255.00px;width:5.60px;height:5.80px;background:#e3e3e3;"></div>
<div class="r" style="left:332.31px;top:237.00px;width:7.40px;height:23.80px;background:rgba(255,255,255,0.5);"></div>
<div class="r" style="left:333.21px;top:237.90px;width:5.60px;height:7.70px;background:#dc0c4e;"></div>
<div class="r" style="left:333.21px;top:245.60px;width:5.60px;height:4.40px;background:#f8b61c;"></div>
<div class="r" style="left:333.21px;top:250.00px;width:5.60px;height:4.00px;background:#68c52e;"></div>
<div class="r" style="left:333.21px;top:254.00px;width:5.60px;height:4.50px;background:#40c1ee;"></div>
<div class="r" style="left:333.21px;top:258.50px;width:5.60px;height:1.00px;background:#cbd0d0;"></div>
<div class="r" style="left:333.21px;top:259.50px;width:5.60px;height:1.30px;background:#e3e3e3;"></div>
<div class="r" style="left:20.30px;top:261.50px;width:609.40px;height:135.20px;background:#ffffff;"></div>
<div class="r" style="left:125.40px;top:396.20px;width:504.30px;height:0.80px;background:#e6e6e6;"></div>
<div class="r" style="left:330.31px;top:261.50px;width:10.79px;height:123.96px;background:#eeeeee;"></div>
<div class="r" style="left:125.40px;top:271.33px;width:504.30px;height:1.00px;background:#f3f3f3;"></div>
<div class="r" style="left:125.40px;top:281.66px;width:504.30px;height:1.00px;background:#f3f3f3;"></div>
<div class="r" style="left:125.40px;top:291.99px;width:504.30px;height:1.00px;background:#f3f3f3;"></div>
<div class="r" style="left:125.40px;top:302.32px;width:504.30px;height:1.00px;background:#f3f3f3;"></div>
<div class="r" style="left:125.40px;top:312.65px;width:504.30px;height:1.00px;background:#f3f3f3;"></div>
<div class="r" style="left:125.40px;top:322.98px;width:504.30px;height:1.00px;background:#f3f3f3;"></div>
<div class="r" style="left:125.40px;top:333.31px;width:504.30px;height:1.00px;background:#f3f3f3;"></div>
<div class="r" style="left:125.40px;top:343.64px;width:504.30px;height:1.00px;background:#f3f3f3;"></div>
<div class="r" style="left:125.40px;top:353.97px;width:504.30px;height:1.00px;background:#f3f3f3;"></div>
<div class="r" style="left:125.40px;top:364.30px;width:504.30px;height:1.00px;background:#f3f3f3;"></div>
<div class="r" style="left:125.40px;top:374.63px;width:504.30px;height:1.00px;background:#f3f3f3;"></div>
<div class="r" style="left:125.40px;top:384.96px;width:504.30px;height:1.00px;background:#f3f3f3;"></div>
<div class="r" style="left:125.40px;top:395.29px;width:504.30px;height:1.00px;background:#f3f3f3;"></div>
<div class="r" style="left:124.90px;top:261.50px;width:1.00px;height:134.60px;background:#f3f3f3;"></div>
<div class="r" style="left:135.69px;top:261.50px;width:1.00px;height:134.60px;background:#f3f3f3;"></div>
<div class="r" style="left:146.47px;top:261.50px;width:1.00px;height:134.60px;background:#f3f3f3;"></div>
<div class="r" style="left:157.25px;top:261.50px;width:1.00px;height:134.60px;background:#f3f3f3;"></div>
<div class="r" style="left:168.04px;top:261.50px;width:1.00px;height:134.60px;background:#f3f3f3;"></div>
<div class="r" style="left:178.82px;top:261.50px;width:1.00px;height:134.60px;background:#f3f3f3;"></div>
<div class="r" style="left:189.61px;top:261.50px;width:1.00px;height:134.60px;background:#f3f3f3;"></div>
<div class="r" style="left:200.40px;top:261.50px;width:1.00px;height:134.60px;background:#f3f3f3;"></div>
<div class="r" style="left:211.18px;top:261.50px;width:1.00px;height:134.60px;background:#f3f3f3;"></div>
<div class="r" style="left:221.97px;top:261.50px;width:1.00px;height:134.60px;background:#f3f3f3;"></div>
<div class="r" style="left:232.75px;top:261.50px;width:1.00px;height:134.60px;background:#f3f3f3;"></div>
<div class="r" style="left:243.54px;top:261.50px;width:1.00px;height:134.60px;background:#f3f3f3;"></div>
<div class="r" style="left:254.32px;top:261.50px;width:1.00px;height:134.60px;background:#f3f3f3;"></div>
<div class="r" style="left:265.11px;top:261.50px;width:1.00px;height:134.60px;background:#f3f3f3;"></div>
<div class="r" style="left:275.89px;top:261.50px;width:1.00px;height:134.60px;background:#f3f3f3;"></div>
<div class="r" style="left:286.68px;top:261.50px;width:1.00px;height:134.60px;background:#f3f3f3;"></div>
<div class="r" style="left:297.46px;top:261.50px;width:1.00px;height:134.60px;background:#f3f3f3;"></div>
<div class="r" style="left:308.25px;top:261.50px;width:1.00px;height:134.60px;background:#f3f3f3;"></div>
<div class="r" style="left:319.03px;top:261.50px;width:1.00px;height:134.60px;background:#f3f3f3;"></div>
<div class="r" style="left:329.81px;top:261.50px;width:1.00px;height:134.60px;background:#f3f3f3;"></div>
<div class="r" style="left:340.60px;top:261.50px;width:1.00px;height:134.60px;background:#f3f3f3;"></div>
<div class="r" style="left:351.38px;top:261.50px;width:1.00px;height:134.60px;background:#f3f3f3;"></div>
<div class="r" style="left:362.17px;top:261.50px;width:1.00px;height:134.60px;background:#f3f3f3;"></div>
<div class="r" style="left:372.96px;top:261.50px;width:1.00px;height:134.60px;background:#f3f3f3;"></div>
<div class="r" style="left:383.74px;top:261.50px;width:1.00px;height:134.60px;background:#f3f3f3;"></div>
<div class="r" style="left:394.52px;top:261.50px;width:1.00px;height:134.60px;background:#f3f3f3;"></div>
<div class="r" style="left:405.31px;top:261.50px;width:1.00px;height:134.60px;background:#f3f3f3;"></div>
<div class="r" style="left:416.10px;top:261.50px;width:1.00px;height:134.60px;background:#f3f3f3;"></div>
<div class="r" style="left:426.88px;top:261.50px;width:1.00px;height:134.60px;background:#f3f3f3;"></div>
<div class="r" style="left:437.66px;top:261.50px;width:1.00px;height:134.60px;background:#f3f3f3;"></div>
<div class="r" style="left:448.45px;top:261.50px;width:1.00px;height:134.60px;background:#f3f3f3;"></div>
<div class="r" style="left:459.24px;top:261.50px;width:1.00px;height:134.60px;background:#f3f3f3;"></div>
<div class="r" style="left:470.02px;top:261.50px;width:1.00px;height:134.60px;background:#f3f3f3;"></div>
<div class="r" style="left:480.81px;top:261.50px;width:1.00px;height:134.60px;background:#f3f3f3;"></div>
<div class="r" style="left:491.59px;top:261.50px;width:1.00px;height:134.60px;background:#f3f3f3;"></div>
<div class="r" style="left:502.38px;top:261.50px;width:1.00px;height:134.60px;background:#f3f3f3;"></div>
<div class="r" style="left:513.16px;top:261.50px;width:1.00px;height:134.60px;background:#f3f3f3;"></div>
<div class="r" style="left:523.95px;top:261.50px;width:1.00px;height:134.60px;background:#f3f3f3;"></div>
<div class="r" style="left:534.73px;top:261.50px;width:1.00px;height:134.60px;background:#f3f3f3;"></div>
<div class="r" style="left:545.51px;top:261.50px;width:1.00px;height:134.60px;background:#f3f3f3;"></div>
<div class="r" style="left:556.30px;top:261.50px;width:1.00px;height:134.60px;background:#f3f3f3;"></div>
<div class="r" style="left:567.09px;top:261.50px;width:1.00px;height:134.60px;background:#f3f3f3;"></div>
<div class="r" style="left:577.87px;top:261.50px;width:1.00px;height:134.60px;background:#f3f3f3;"></div>
<div class="r" style="left:588.65px;top:261.50px;width:1.00px;height:134.60px;background:#f3f3f3;"></div>
<div class="r" style="left:599.44px;top:261.50px;width:1.00px;height:134.60px;background:#f3f3f3;"></div>
<div class="r" style="left:610.23px;top:261.50px;width:1.00px;height:134.60px;background:#f3f3f3;"></div>
<div class="r" style="left:621.01px;top:261.50px;width:1.00px;height:134.60px;background:#f3f3f3;"></div>
<div class="t" style="left:-280.90px;width:400px;text-align:right;top:263.94px;font-size:6.45px;line-height:6.45px;font-weight:400;color:#333;">Easy week</div>
<div class="r" style="left:147.37px;top:264.10px;width:9.98px;height:5.00px;background:#5dc21e;border-radius:2.5px;"></div>
<div class="r" style="left:179.72px;top:264.10px;width:9.99px;height:5.00px;background:#5dc21e;border-radius:2.5px;"></div>
<div class="r" style="left:222.87px;top:264.10px;width:9.98px;height:5.00px;background:#5dc21e;border-radius:2.5px;"></div>
<div class="r" style="left:266.00px;top:264.10px;width:9.99px;height:5.00px;background:#5dc21e;border-radius:2.5px;"></div>
<div class="r" style="left:309.14px;top:264.10px;width:20.77px;height:5.00px;background:#5dc21e;border-radius:2.5px;"></div>
<div class="r" style="left:341.50px;top:264.10px;width:9.99px;height:5.00px;background:#5dc21e;border-radius:2.5px;"></div>
<div class="r" style="left:395.42px;top:264.10px;width:9.99px;height:5.00px;background:#5dc21e;border-radius:2.5px;"></div>
<div class="r" style="left:438.56px;top:264.10px;width:9.99px;height:5.00px;background:#5dc21e;border-radius:2.5px;"></div>
<div class="r" style="left:481.71px;top:264.10px;width:9.99px;height:5.00px;background:#5dc21e;border-radius:2.5px;"></div>
<div class="r" style="left:514.06px;top:264.10px;width:20.77px;height:5.00px;background:#5dc21e;border-radius:2.5px;"></div>
<div class="r" style="left:546.41px;top:264.10px;width:20.77px;height:5.00px;background:#5dc21e;border-radius:2.5px;"></div>
<div class="r" style="left:589.55px;top:264.10px;width:9.99px;height:5.00px;background:#5dc21e;border-radius:2.5px;"></div>
<div class="r" style="left:621.91px;top:264.10px;width:8.09px;height:5.00px;background:#5dc21e;border-radius:2.5px;"></div>
<div class="t" style="left:-280.90px;width:400px;text-align:right;top:274.27px;font-size:6.45px;line-height:6.45px;font-weight:400;color:#333;">Medium week</div>
<div class="r" style="left:125.80px;top:274.43px;width:20.77px;height:5.00px;background:#f7cf2e;border-radius:2.5px;"></div>
<div class="r" style="left:158.16px;top:274.43px;width:20.77px;height:5.00px;background:#f7cf2e;border-radius:2.5px;"></div>
<div class="r" style="left:190.51px;top:274.43px;width:9.98px;height:5.00px;background:#f7cf2e;border-radius:2.5px;"></div>
<div class="r" style="left:233.65px;top:274.43px;width:9.99px;height:5.00px;background:#f7cf2e;border-radius:2.5px;"></div>
<div class="r" style="left:276.79px;top:274.43px;width:9.99px;height:5.00px;background:#f7cf2e;border-radius:2.5px;"></div>
<div class="r" style="left:330.71px;top:274.43px;width:9.99px;height:5.00px;background:#f7cf2e;border-radius:2.5px;"></div>
<div class="r" style="left:352.28px;top:274.43px;width:20.77px;height:5.00px;background:#f7cf2e;border-radius:2.5px;"></div>
<div class="r" style="left:406.21px;top:274.43px;width:9.99px;height:5.00px;background:#f7cf2e;border-radius:2.5px;"></div>
<div class="r" style="left:449.35px;top:274.43px;width:9.99px;height:5.00px;background:#f7cf2e;border-radius:2.5px;"></div>
<div class="r" style="left:492.49px;top:274.43px;width:9.99px;height:5.00px;background:#f7cf2e;border-radius:2.5px;"></div>
<div class="r" style="left:535.63px;top:274.43px;width:9.99px;height:5.00px;background:#f7cf2e;border-radius:2.5px;"></div>
<div class="r" style="left:578.77px;top:274.43px;width:9.99px;height:5.00px;background:#f7cf2e;border-radius:2.5px;"></div>
<div class="r" style="left:600.34px;top:274.43px;width:9.99px;height:5.00px;background:#f7cf2e;border-radius:2.5px;"></div>
<div class="t" style="left:-280.90px;width:400px;text-align:right;top:284.60px;font-size:6.45px;line-height:6.45px;font-weight:400;color:#333;">Hard week</div>
<div class="r" style="left:201.30px;top:284.76px;width:20.77px;height:5.00px;background:#fb8224;border-radius:2.5px;"></div>
<div class="r" style="left:244.44px;top:284.76px;width:20.77px;height:5.00px;background:#fb8224;border-radius:2.5px;"></div>
<div class="r" style="left:287.57px;top:284.76px;width:20.77px;height:5.00px;background:#fb8224;border-radius:2.5px;"></div>
<div class="r" style="left:373.86px;top:284.76px;width:20.77px;height:5.00px;background:#fb8224;border-radius:2.5px;"></div>
<div class="r" style="left:417.00px;top:284.76px;width:20.77px;height:5.00px;background:#fb8224;border-radius:2.5px;"></div>
<div class="r" style="left:460.13px;top:284.76px;width:20.77px;height:5.00px;background:#fb8224;border-radius:2.5px;"></div>
<div class="r" style="left:503.27px;top:284.76px;width:9.99px;height:5.00px;background:#fb8224;border-radius:2.5px;"></div>
<div class="r" style="left:567.99px;top:284.76px;width:9.99px;height:5.00px;background:#fb8224;border-radius:2.5px;"></div>
<div class="r" style="left:611.12px;top:284.76px;width:9.99px;height:5.00px;background:#fb8224;border-radius:2.5px;"></div>
<div class="t" style="left:-280.90px;width:400px;text-align:right;top:294.93px;font-size:6.45px;line-height:6.45px;font-weight:400;color:#333;">Endurance</div>
<div class="r" style="left:125.80px;top:295.09px;width:96.26px;height:5.00px;background:#22a3dd;border-radius:2.5px;"></div>
<div class="r" style="left:373.86px;top:295.09px;width:53.12px;height:5.00px;background:#22a3dd;border-radius:2.5px;"></div>
<div class="r" style="left:567.99px;top:295.09px;width:9.99px;height:5.00px;background:#22a3dd;border-radius:2.5px;"></div>
<div class="r" style="left:611.12px;top:295.09px;width:9.99px;height:5.00px;background:#22a3dd;border-radius:2.5px;"></div>
<div class="t" style="left:-280.90px;width:400px;text-align:right;top:305.26px;font-size:6.45px;line-height:6.45px;font-weight:400;color:#333;">Core strength</div>
<div class="r" style="left:125.80px;top:305.42px;width:74.69px;height:5.00px;background:#1cb47d;border-radius:2.5px;"></div>
<div class="r" style="left:373.86px;top:305.42px;width:53.12px;height:5.00px;background:#1cb47d;border-radius:2.5px;"></div>
<div class="t" style="left:-280.90px;width:400px;text-align:right;top:315.59px;font-size:6.45px;line-height:6.45px;font-weight:400;color:#333;">Max strength</div>
<div class="r" style="left:201.30px;top:315.75px;width:74.69px;height:5.00px;background:#9c10de;border-radius:2.5px;"></div>
<div class="r" style="left:427.78px;top:315.75px;width:53.13px;height:5.00px;background:#9c10de;border-radius:2.5px;"></div>
<div class="t" style="left:-280.90px;width:400px;text-align:right;top:325.92px;font-size:6.45px;line-height:6.45px;font-weight:400;color:#333;">Anaerobic threshold</div>
<div class="r" style="left:222.87px;top:326.08px;width:53.12px;height:5.00px;background:#0b62e6;border-radius:2.5px;"></div>
<div class="r" style="left:427.78px;top:326.08px;width:53.13px;height:5.00px;background:#0b62e6;border-radius:2.5px;"></div>
<div class="t" style="left:-280.90px;width:400px;text-align:right;top:336.25px;font-size:6.45px;line-height:6.45px;font-weight:400;color:#333;">Speed &amp; Power</div>
<div class="r" style="left:276.79px;top:336.41px;width:42.34px;height:5.00px;background:#ec1024;border-radius:2.5px;"></div>
<div class="r" style="left:481.71px;top:336.41px;width:42.34px;height:5.00px;background:#ec1024;border-radius:2.5px;"></div>
<div class="t" style="left:-280.90px;width:400px;text-align:right;top:346.58px;font-size:6.45px;line-height:6.45px;font-weight:400;color:#333;">Race pace / MAS</div>
<div class="r" style="left:276.79px;top:346.74px;width:42.34px;height:5.00px;background:#0b0db4;border-radius:2.5px;"></div>
<div class="r" style="left:481.71px;top:346.74px;width:42.34px;height:5.00px;background:#0b0db4;border-radius:2.5px;"></div>
<div class="t" style="left:-280.90px;width:400px;text-align:right;top:356.91px;font-size:6.45px;line-height:6.45px;font-weight:400;color:#333;">Races</div>
<div class="r" style="left:319.93px;top:357.07px;width:42.34px;height:5.00px;background:#d60b2c;border-radius:2.5px;"></div>
<div class="r" style="left:524.85px;top:357.07px;width:42.34px;height:5.00px;background:#d60b2c;border-radius:2.5px;"></div>
<div class="r" style="left:578.77px;top:357.07px;width:31.56px;height:5.00px;background:#d60b2c;border-radius:2.5px;"></div>
<div class="r" style="left:621.91px;top:357.07px;width:8.09px;height:5.00px;background:#d60b2c;border-radius:2.5px;"></div>
<div class="t" style="left:-280.90px;width:400px;text-align:right;top:367.24px;font-size:6.45px;line-height:6.45px;font-weight:400;color:#333;">Tests</div>
<div class="r" style="left:179.72px;top:367.40px;width:9.99px;height:5.00px;background:#6c2eae;border-radius:2.5px;"></div>
<div class="r" style="left:222.87px;top:367.40px;width:9.98px;height:5.00px;background:#6c2eae;border-radius:2.5px;"></div>
<div class="r" style="left:266.00px;top:367.40px;width:9.99px;height:5.00px;background:#6c2eae;border-radius:2.5px;"></div>
<div class="r" style="left:309.14px;top:367.40px;width:9.99px;height:5.00px;background:#6c2eae;border-radius:2.5px;"></div>
<div class="r" style="left:417.00px;top:367.40px;width:9.99px;height:5.00px;background:#6c2eae;border-radius:2.5px;"></div>
<div class="r" style="left:481.71px;top:367.40px;width:9.99px;height:5.00px;background:#6c2eae;border-radius:2.5px;"></div>
<div class="r" style="left:514.06px;top:367.40px;width:9.99px;height:5.00px;background:#6c2eae;border-radius:2.5px;"></div>
<div class="t" style="left:-280.90px;width:400px;text-align:right;top:377.57px;font-size:6.45px;line-height:6.45px;font-weight:400;color:#333;">Training Camps</div>
<div class="r" style="left:190.51px;top:377.73px;width:31.55px;height:5.00px;background:#fb8a25;border-radius:2.5px;"></div>
<div class="r" style="left:287.57px;top:377.73px;width:20.77px;height:5.00px;background:#fb8a25;border-radius:2.5px;"></div>
<div class="r" style="left:449.35px;top:377.73px;width:31.56px;height:5.00px;background:#fb8a25;border-radius:2.5px;"></div>
<div class="t" style="left:-280.90px;width:400px;text-align:right;top:387.90px;font-size:6.45px;line-height:6.45px;font-weight:400;color:#333;">Massage</div>
<div class="r" style="left:147.37px;top:388.06px;width:9.98px;height:5.00px;background:#27a6dd;border-radius:2.5px;"></div>
<div class="r" style="left:179.72px;top:388.06px;width:9.99px;height:5.00px;background:#27a6dd;border-radius:2.5px;"></div>
<div class="r" style="left:201.30px;top:388.06px;width:9.98px;height:5.00px;background:#27a6dd;border-radius:2.5px;"></div>
<div class="r" style="left:222.87px;top:388.06px;width:9.98px;height:5.00px;background:#27a6dd;border-radius:2.5px;"></div>
<div class="r" style="left:244.44px;top:388.06px;width:9.98px;height:5.00px;background:#27a6dd;border-radius:2.5px;"></div>
<div class="r" style="left:266.00px;top:388.06px;width:9.99px;height:5.00px;background:#27a6dd;border-radius:2.5px;"></div>
<div class="r" style="left:287.57px;top:388.06px;width:9.99px;height:5.00px;background:#27a6dd;border-radius:2.5px;"></div>
<div class="r" style="left:309.14px;top:388.06px;width:9.99px;height:5.00px;background:#27a6dd;border-radius:2.5px;"></div>
<div class="r" style="left:330.71px;top:388.06px;width:9.99px;height:5.00px;background:#27a6dd;border-radius:2.5px;"></div>
<div class="r" style="left:352.28px;top:388.06px;width:9.99px;height:5.00px;background:#27a6dd;border-radius:2.5px;"></div>
<div class="r" style="left:373.86px;top:388.06px;width:9.99px;height:5.00px;background:#27a6dd;border-radius:2.5px;"></div>
<div class="r" style="left:395.42px;top:388.06px;width:9.99px;height:5.00px;background:#27a6dd;border-radius:2.5px;"></div>
<div class="r" style="left:417.00px;top:388.06px;width:9.99px;height:5.00px;background:#27a6dd;border-radius:2.5px;"></div>
<div class="r" style="left:438.56px;top:388.06px;width:9.99px;height:5.00px;background:#27a6dd;border-radius:2.5px;"></div>
<div class="r" style="left:460.13px;top:388.06px;width:9.99px;height:5.00px;background:#27a6dd;border-radius:2.5px;"></div>
<div class="r" style="left:481.71px;top:388.06px;width:9.99px;height:5.00px;background:#27a6dd;border-radius:2.5px;"></div>
<div class="r" style="left:503.27px;top:388.06px;width:9.99px;height:5.00px;background:#27a6dd;border-radius:2.5px;"></div>
<div class="r" style="left:524.85px;top:388.06px;width:9.99px;height:5.00px;background:#27a6dd;border-radius:2.5px;"></div>
<div class="r" style="left:546.41px;top:388.06px;width:9.99px;height:5.00px;background:#27a6dd;border-radius:2.5px;"></div>
<div class="r" style="left:567.99px;top:388.06px;width:9.99px;height:5.00px;background:#27a6dd;border-radius:2.5px;"></div>
<div class="r" style="left:589.55px;top:388.06px;width:9.99px;height:5.00px;background:#27a6dd;border-radius:2.5px;"></div>
<div class="r" style="left:611.12px;top:388.06px;width:9.99px;height:5.00px;background:#27a6dd;border-radius:2.5px;"></div>
<svg class="r" style="left:330.71px;top:396.80px;" width="10.785" height="7" viewBox="0 0 10.785 7"><path d="M0 0 L10.785 0 L5.3925 5.8 Z" fill="#9a9a9a"/></svg>
<div class="t" style="left:21.00px;top:410.44px;font-size:8.7px;line-height:8.7px;font-weight:700;color:#222;">Mon 11-02-2019 - Sun 17-02-2019</div>
<div class="r" style="left:20.50px;top:425.50px;width:16.30px;height:12.90px;background:#ffffff;"></div>
<svg class="r" style="left:24.50px;top:428.50px;" width="8" height="8" viewBox="0 0 8 8"><path d="M6.2 0.8 V7 L1.6 3.9 Z" fill="#111"/></svg>
<div class="r" style="left:38.60px;top:425.50px;width:36.90px;height:12.90px;background:#ffffff;"></div>
<div class="t" style="left:42.70px;top:430.18px;font-size:6.4px;line-height:6.4px;font-weight:400;color:#444;">This week</div>
<div class="r" style="left:77.80px;top:425.50px;width:15.70px;height:12.90px;background:#ffffff;"></div>
<svg class="r" style="left:82.00px;top:428.50px;" width="8" height="8" viewBox="0 0 8 8"><path d="M1.8 0.8 V7 L6.4 3.9 Z" fill="#111"/></svg>
<div class="t" style="left:100.70px;top:428.99px;font-size:7.1px;line-height:7.1px;font-weight:700;color:#222;">Current period</div>
<div class="r" style="left:155.00px;top:427.10px;width:43.40px;height:11.10px;background:#a3001e;"></div>
<div class="t" style="left:-23.30px;width:400px;text-align:center;top:429.95px;font-size:5.73px;line-height:5.73px;font-weight:700;color:#fff;">Race (indoor)</div>
<div class="t" style="left:203.90px;top:428.74px;font-size:7.04px;line-height:7.04px;font-weight:700;color:#222;">Planned themes</div>
<div class="r" style="left:260.60px;top:427.40px;width:48.80px;height:10.20px;background:#f5d12e;border-radius:5px;"></div>
<div class="t" style="left:85.00px;width:400px;text-align:center;top:430.46px;font-size:5.6px;line-height:5.6px;font-weight:700;color:#fff;">Medium week</div>
<div class="r" style="left:312.60px;top:427.40px;width:27.40px;height:10.20px;background:#d80a2c;border-radius:5px;"></div>
<div class="t" style="left:126.30px;width:400px;text-align:center;top:430.46px;font-size:5.6px;line-height:5.6px;font-weight:700;color:#fff;">Races</div>
<div class="r" style="left:343.60px;top:427.40px;width:35.80px;height:10.20px;background:#29a5dc;border-radius:5px;"></div>
<div class="t" style="left:161.50px;width:400px;text-align:center;top:430.46px;font-size:5.6px;line-height:5.6px;font-weight:700;color:#fff;">Massage</div>
<div class="r" style="left:20.50px;top:447.00px;width:609.50px;height:92.00px;background:#ffffff;"></div>
<svg class="r" style="left:26.50px;top:454.00px;" width="9" height="9" viewBox="0 0 9 9"><path d="M4.5 0.6 L5.6 3.3 L8.4 3.5 L6.3 5.3 L7 8.2 L4.5 6.6 L2 8.2 L2.7 5.3 L0.6 3.5 L3.4 3.3 Z" fill="none" stroke="#111" stroke-width="0.9" stroke-linejoin="round"/></svg>
<div class="t" style="left:38.00px;top:455.03px;font-size:8.0px;line-height:8.0px;font-weight:400;color:#333;">Favorites</div>
<div class="r" style="left:549.20px;top:451.40px;width:76.20px;height:15.20px;background:#ffffff;box-shadow:0 0 1.5px rgba(0,0,0,0.18);border-radius:2px;"></div>
<div class="t" style="left:554.70px;top:455.68px;font-size:6.88px;line-height:6.88px;font-weight:400;color:#222;">Create favorite target</div>
<div class="r" style="left:20.50px;top:471.10px;width:609.50px;height:61.60px;background:#cdcdcd;"></div>
<div class="r" style="left:20.50px;top:532.50px;width:609.50px;height:3.10px;background:#ececec;"></div>
<div class="r" style="left:20.50px;top:536.20px;width:609.50px;height:2.80px;background:#fbfbfb;"></div>
<div class="r" style="left:20.50px;top:535.40px;width:609.50px;height:0.90px;background:#e2e2e2;"></div>
<div class="r" style="left:107.50px;top:536.20px;width:0.80px;height:2.80px;background:#eeeeee;"></div>
<div class="r" style="left:194.30px;top:536.20px;width:0.80px;height:2.80px;background:#eeeeee;"></div>
<div class="r" style="left:281.10px;top:536.20px;width:0.80px;height:2.80px;background:#eeeeee;"></div>
<div class="r" style="left:367.90px;top:536.20px;width:0.80px;height:2.80px;background:#eeeeee;"></div>
<div class="r" style="left:454.70px;top:536.20px;width:0.80px;height:2.80px;background:#eeeeee;"></div>
<div class="r" style="left:541.50px;top:536.20px;width:0.80px;height:2.80px;background:#eeeeee;"></div>
<div class="r" style="left:21.90px;top:472.60px;width:85.30px;height:18.00px;background:#ffffff;"></div>
<div class="r" style="left:23.90px;top:473.80px;width:15px;height:16.80px;overflow:hidden"><svg width="15" height="15" viewBox="0 0 15 15"><rect x="0" y="0" width="15" height="15" rx="1.6" fill="#7d7d7d"/><circle cx="9.4" cy="2.5" r="1.5" fill="#fff"/><path d="M8.6 4.6 L6.3 8.8 M8.6 4.9 L10.6 6.1 L12.9 5.3 M8.1 4.8 L5.6 5.1 L3.9 6.9 M6.3 8.8 L8.8 10.4 L8.4 13.4 M6.3 8.8 L4.3 11.1 L1.2 11.4" stroke="#fff" stroke-width="1.65" stroke-linecap="round" stroke-linejoin="round" fill="none"/><rect x="1.5" y="12.9" width="12" height="0.5" fill="rgba(255,255,255,0.6)"/></svg></div>
<div class="t" style="left:41.10px;top:477.16px;font-size:5.72px;line-height:5.72px;font-weight:700;color:#111;">Race</div>
<div class="r" style="left:108.70px;top:472.60px;width:85.30px;height:18.00px;background:#ffffff;"></div>
<div class="r" style="left:110.70px;top:473.80px;width:15px;height:16.80px;overflow:hidden"><svg width="15" height="15" viewBox="0 0 15 15"><rect x="0" y="0" width="15" height="15" rx="1.6" fill="#7d7d7d"/><circle cx="9.4" cy="2.5" r="1.5" fill="#fff"/><path d="M8.6 4.6 L6.3 8.8 M8.6 4.9 L10.6 6.1 L12.9 5.3 M8.1 4.8 L5.6 5.1 L3.9 6.9 M6.3 8.8 L8.8 10.4 L8.4 13.4 M6.3 8.8 L4.3 11.1 L1.2 11.4" stroke="#fff" stroke-width="1.65" stroke-linecap="round" stroke-linejoin="round" fill="none"/><rect x="1.5" y="12.9" width="12" height="0.5" fill="rgba(255,255,255,0.6)"/></svg></div>
<div class="t" style="left:127.90px;top:477.16px;font-size:5.72px;line-height:5.72px;font-weight:700;color:#111;">Speed 1</div>
<div class="r" style="left:195.50px;top:472.60px;width:85.30px;height:18.00px;background:#ffffff;"></div>
<div class="r" style="left:197.50px;top:473.80px;width:15px;height:16.80px;overflow:hidden"><svg width="15" height="15" viewBox="0 0 15 15"><rect x="0" y="0" width="15" height="15" rx="1.6" fill="#7d7d7d"/><circle cx="9.4" cy="2.5" r="1.5" fill="#fff"/><path d="M8.6 4.6 L6.3 8.8 M8.6 4.9 L10.6 6.1 L12.9 5.3 M8.1 4.8 L5.6 5.1 L3.9 6.9 M6.3 8.8 L8.8 10.4 L8.4 13.4 M6.3 8.8 L4.3 11.1 L1.2 11.4" stroke="#fff" stroke-width="1.65" stroke-linecap="round" stroke-linejoin="round" fill="none"/><rect x="1.5" y="12.9" width="12" height="0.5" fill="rgba(255,255,255,0.6)"/></svg></div>
<div class="t" style="left:214.70px;top:477.16px;font-size:5.72px;line-height:5.72px;font-weight:700;color:#111;">Speed 2</div>
<div class="r" style="left:282.30px;top:472.60px;width:85.30px;height:18.00px;background:#ffffff;"></div>
<div class="r" style="left:284.30px;top:473.80px;width:15px;height:16.80px;overflow:hidden"><svg width="15" height="15" viewBox="0 0 15 15"><rect x="0" y="0" width="15" height="15" rx="1.6" fill="#7d7d7d"/><circle cx="9.4" cy="2.5" r="1.5" fill="#fff"/><path d="M8.6 4.6 L6.3 8.8 M8.6 4.9 L10.6 6.1 L12.9 5.3 M8.1 4.8 L5.6 5.1 L3.9 6.9 M6.3 8.8 L8.8 10.4 L8.4 13.4 M6.3 8.8 L4.3 11.1 L1.2 11.4" stroke="#fff" stroke-width="1.65" stroke-linecap="round" stroke-linejoin="round" fill="none"/><rect x="1.5" y="12.9" width="12" height="0.5" fill="rgba(255,255,255,0.6)"/></svg></div>
<div class="t" style="left:301.50px;top:477.16px;font-size:5.72px;line-height:5.72px;font-weight:700;color:#111;">Technique 1</div>
<div class="r" style="left:369.10px;top:472.60px;width:85.30px;height:18.00px;background:#ffffff;"></div>
<div class="r" style="left:371.10px;top:473.80px;width:15px;height:16.80px;overflow:hidden"><svg width="15" height="15" viewBox="0 0 15 15"><rect x="0" y="0" width="15" height="15" rx="1.6" fill="#7d7d7d"/><circle cx="9.4" cy="2.5" r="1.5" fill="#fff"/><path d="M8.6 4.6 L6.3 8.8 M8.6 4.9 L10.6 6.1 L12.9 5.3 M8.1 4.8 L5.6 5.1 L3.9 6.9 M6.3 8.8 L8.8 10.4 L8.4 13.4 M6.3 8.8 L4.3 11.1 L1.2 11.4" stroke="#fff" stroke-width="1.65" stroke-linecap="round" stroke-linejoin="round" fill="none"/><rect x="1.5" y="12.9" width="12" height="0.5" fill="rgba(255,255,255,0.6)"/></svg></div>
<div class="t" style="left:388.30px;top:477.16px;font-size:5.72px;line-height:5.72px;font-weight:700;color:#111;">Technique 2</div>
<div class="r" style="left:455.90px;top:472.60px;width:85.30px;height:18.00px;background:#ffffff;"></div>
<div class="r" style="left:457.90px;top:473.80px;width:15px;height:16.80px;overflow:hidden"><svg width="15" height="15" viewBox="0 0 15 15"><rect x="0" y="0" width="15" height="15" rx="1.6" fill="#7d7d7d"/><circle cx="9.4" cy="2.5" r="1.5" fill="#fff"/><path d="M8.6 4.6 L6.3 8.8 M8.6 4.9 L10.6 6.1 L12.9 5.3 M8.1 4.8 L5.6 5.1 L3.9 6.9 M6.3 8.8 L8.8 10.4 L8.4 13.4 M6.3 8.8 L4.3 11.1 L1.2 11.4" stroke="#fff" stroke-width="1.65" stroke-linecap="round" stroke-linejoin="round" fill="none"/><rect x="1.5" y="12.9" width="12" height="0.5" fill="rgba(255,255,255,0.6)"/></svg></div>
<div class="t" style="left:475.10px;top:477.16px;font-size:5.72px;line-height:5.72px;font-weight:700;color:#111;">3x4x200m intervals</div>
<div class="r" style="left:542.70px;top:472.60px;width:85.30px;height:18.00px;background:#ffffff;"></div>
<div class="r" style="left:544.70px;top:473.80px;width:15px;height:16.80px;overflow:hidden"><svg width="15" height="15" viewBox="0 0 15 15"><rect x="0" y="0" width="15" height="15" rx="1.6" fill="#7d7d7d"/><circle cx="9.4" cy="2.5" r="1.5" fill="#fff"/><path d="M8.6 4.6 L6.3 8.8 M8.6 4.9 L10.6 6.1 L12.9 5.3 M8.1 4.8 L5.6 5.1 L3.9 6.9 M6.3 8.8 L8.8 10.4 L8.4 13.4 M6.3 8.8 L4.3 11.1 L1.2 11.4" stroke="#fff" stroke-width="1.65" stroke-linecap="round" stroke-linejoin="round" fill="none"/><rect x="1.5" y="12.9" width="12" height="0.5" fill="rgba(255,255,255,0.6)"/></svg></div>
<div class="t" style="left:561.90px;top:477.16px;font-size:5.72px;line-height:5.72px;font-weight:700;color:#111;">8x600m intervals</div>
<div class="r" style="left:21.90px;top:495.90px;width:85.30px;height:18.00px;background:#ffffff;"></div>
<div class="r" style="left:23.90px;top:497.10px;width:15px;height:16.80px;overflow:hidden"><svg width="15" height="15" viewBox="0 0 15 15"><rect x="0" y="0" width="15" height="15" rx="1.6" fill="#7d7d7d"/><circle cx="9.4" cy="2.5" r="1.5" fill="#fff"/><path d="M8.6 4.6 L6.3 8.8 M8.6 4.9 L10.6 6.1 L12.9 5.3 M8.1 4.8 L5.6 5.1 L3.9 6.9 M6.3 8.8 L8.8 10.4 L8.4 13.4 M6.3 8.8 L4.3 11.1 L1.2 11.4" stroke="#fff" stroke-width="1.65" stroke-linecap="round" stroke-linejoin="round" fill="none"/><rect x="1.5" y="12.9" width="12" height="0.5" fill="rgba(255,255,255,0.6)"/></svg></div>
<div class="t" style="left:41.10px;top:500.96px;font-size:5.72px;line-height:5.72px;font-weight:700;color:#111;">6x1000m intervals</div>
<div class="r" style="left:108.70px;top:495.90px;width:85.30px;height:18.00px;background:#ffffff;"></div>
<div class="r" style="left:110.70px;top:497.10px;width:15px;height:16.80px;overflow:hidden"><svg width="15" height="15" viewBox="0 0 15 15"><rect x="0" y="0" width="15" height="15" rx="1.6" fill="#7d7d7d"/><circle cx="9.4" cy="2.5" r="1.5" fill="#fff"/><path d="M8.6 4.6 L6.3 8.8 M8.6 4.9 L10.6 6.1 L12.9 5.3 M8.1 4.8 L5.6 5.1 L3.9 6.9 M6.3 8.8 L8.8 10.4 L8.4 13.4 M6.3 8.8 L4.3 11.1 L1.2 11.4" stroke="#fff" stroke-width="1.65" stroke-linecap="round" stroke-linejoin="round" fill="none"/><rect x="1.5" y="12.9" width="12" height="0.5" fill="rgba(255,255,255,0.6)"/></svg></div>
<div class="t" style="left:127.90px;top:500.96px;font-size:5.72px;line-height:5.72px;font-weight:700;color:#111;">Pyramid intervals</div>
<div class="r" style="left:195.50px;top:495.90px;width:85.30px;height:18.00px;background:#ffffff;"></div>
<div class="r" style="left:197.50px;top:497.10px;width:15px;height:16.80px;overflow:hidden"><svg width="15" height="15" viewBox="0 0 15 15"><rect x="0" y="0" width="15" height="15" rx="1.6" fill="#7d7d7d"/><circle cx="9.4" cy="2.5" r="1.5" fill="#fff"/><path d="M8.6 4.6 L6.3 8.8 M8.6 4.9 L10.6 6.1 L12.9 5.3 M8.1 4.8 L5.6 5.1 L3.9 6.9 M6.3 8.8 L8.8 10.4 L8.4 13.4 M6.3 8.8 L4.3 11.1 L1.2 11.4" stroke="#fff" stroke-width="1.65" stroke-linecap="round" stroke-linejoin="round" fill="none"/><rect x="1.5" y="12.9" width="12" height="0.5" fill="rgba(255,255,255,0.6)"/></svg></div>
<div class="t" style="left:214.70px;top:500.96px;font-size:5.72px;line-height:5.72px;font-weight:700;color:#111;">Morning run</div>
<div class="r" style="left:282.30px;top:495.90px;width:85.30px;height:18.00px;background:#ffffff;"></div>
<div class="r" style="left:284.30px;top:497.10px;width:15px;height:16.80px;overflow:hidden"><svg width="15" height="15" viewBox="0 0 15 15"><rect x="0" y="0" width="15" height="15" rx="1.6" fill="#7d7d7d"/><circle cx="9.4" cy="2.5" r="1.5" fill="#fff"/><path d="M8.6 4.6 L6.3 8.8 M8.6 4.9 L10.6 6.1 L12.9 5.3 M8.1 4.8 L5.6 5.1 L3.9 6.9 M6.3 8.8 L8.8 10.4 L8.4 13.4 M6.3 8.8 L4.3 11.1 L1.2 11.4" stroke="#fff" stroke-width="1.65" stroke-linecap="round" stroke-linejoin="round" fill="none"/><rect x="1.5" y="12.9" width="12" height="0.5" fill="rgba(255,255,255,0.6)"/></svg></div>
<div class="t" style="left:301.50px;top:500.96px;font-size:5.72px;line-height:5.72px;font-weight:700;color:#111;">Long run</div>
<div class="r" style="left:369.10px;top:495.90px;width:85.30px;height:18.00px;background:#ffffff;"></div>
<div class="r" style="left:371.10px;top:497.10px;width:15px;height:16.80px;overflow:hidden"><svg width="15" height="15" viewBox="0 0 15 15"><rect x="0" y="0" width="15" height="15" rx="1.6" fill="#7d7d7d"/><circle cx="9.4" cy="2.5" r="1.5" fill="#fff"/><path d="M8.6 4.6 L6.3 8.8 M8.6 4.9 L10.6 6.1 L12.9 5.3 M8.1 4.8 L5.6 5.1 L3.9 6.9 M6.3 8.8 L8.8 10.4 L8.4 13.4 M6.3 8.8 L4.3 11.1 L1.2 11.4" stroke="#fff" stroke-width="1.65" stroke-linecap="round" stroke-linejoin="round" fill="none"/><rect x="1.5" y="12.9" width="12" height="0.5" fill="rgba(255,255,255,0.6)"/></svg></div>
<div class="t" style="left:388.30px;top:500.96px;font-size:5.72px;line-height:5.72px;font-weight:700;color:#111;">Uphills, short</div>
<div class="r" style="left:455.90px;top:495.90px;width:85.30px;height:18.00px;background:#ffffff;"></div>
<div class="r" style="left:457.90px;top:497.10px;width:15px;height:16.80px;overflow:hidden"><svg width="15" height="15" viewBox="0 0 15 15"><rect x="0" y="0" width="15" height="15" rx="1.6" fill="#7d7d7d"/><circle cx="9.4" cy="2.5" r="1.5" fill="#fff"/><path d="M8.6 4.6 L6.3 8.8 M8.6 4.9 L10.6 6.1 L12.9 5.3 M8.1 4.8 L5.6 5.1 L3.9 6.9 M6.3 8.8 L8.8 10.4 L8.4 13.4 M6.3 8.8 L4.3 11.1 L1.2 11.4" stroke="#fff" stroke-width="1.65" stroke-linecap="round" stroke-linejoin="round" fill="none"/><rect x="1.5" y="12.9" width="12" height="0.5" fill="rgba(255,255,255,0.6)"/></svg></div>
<div class="t" style="left:475.10px;top:500.96px;font-size:5.72px;line-height:5.72px;font-weight:700;color:#111;">Uphills, long</div>
<div class="r" style="left:542.70px;top:495.90px;width:85.30px;height:18.00px;background:#ffffff;"></div>
<div class="r" style="left:544.70px;top:497.10px;width:15px;height:16.80px;overflow:hidden"><svg width="15" height="15" viewBox="0 0 15 15"><rect x="0" y="0" width="15" height="15" rx="1.6" fill="#7d7d7d"/><rect x="0.5" y="2.3" width="14" height="1.4" fill="rgba(255,255,255,0.55)"/><path d="M1.6 3.5 V13.5 M13.4 3.5 V13.5" stroke="rgba(255,255,255,0.3)" stroke-width="0.8"/><circle cx="7.5" cy="4.6" r="1.2" fill="#fff"/><path d="M4.2 2.6 L5.4 6.2 H9.6 L10.8 2.6" stroke="#fff" stroke-width="1.2" stroke-linejoin="round" stroke-linecap="round" fill="none"/><path d="M6.1 5.9 H8.9 V9.8 H8.6 V14 H7.7 V10.2 H7.3 V14 H6.4 V9.8 H6.1 Z" fill="#fff"/></svg></div>
<div class="t" style="left:561.90px;top:500.96px;font-size:5.72px;line-height:5.72px;font-weight:700;color:#111;">Explosive strength</div>
<div class="r" style="left:21.90px;top:519.10px;width:85.30px;height:13.40px;background:#ffffff;"></div>
<div class="r" style="left:23.90px;top:520.30px;width:15px;height:12.20px;overflow:hidden"><svg width="15" height="15" viewBox="0 0 15 15"><rect x="0" y="0" width="15" height="15" rx="1.6" fill="#7d7d7d"/><rect x="0.5" y="2.3" width="14" height="1.4" fill="rgba(255,255,255,0.55)"/><path d="M1.6 3.5 V13.5 M13.4 3.5 V13.5" stroke="rgba(255,255,255,0.3)" stroke-width="0.8"/><circle cx="7.5" cy="4.6" r="1.2" fill="#fff"/><path d="M4.2 2.6 L5.4 6.2 H9.6 L10.8 2.6" stroke="#fff" stroke-width="1.2" stroke-linejoin="round" stroke-linecap="round" fill="none"/><path d="M6.1 5.9 H8.9 V9.8 H8.6 V14 H7.7 V10.2 H7.3 V14 H6.4 V9.8 H6.1 Z" fill="#fff"/></svg></div>
<div class="t" style="left:41.10px;top:524.16px;font-size:5.72px;line-height:5.72px;font-weight:700;color:#111;">Plyometric strength</div>
<div class="r" style="left:108.70px;top:519.10px;width:85.30px;height:13.40px;background:#ffffff;"></div>
<div class="r" style="left:110.70px;top:520.30px;width:15px;height:12.20px;overflow:hidden"><svg width="15" height="15" viewBox="0 0 15 15"><rect x="0" y="0" width="15" height="15" rx="1.6" fill="#7d7d7d"/><rect x="0.5" y="2.3" width="14" height="1.4" fill="rgba(255,255,255,0.55)"/><path d="M1.6 3.5 V13.5 M13.4 3.5 V13.5" stroke="rgba(255,255,255,0.3)" stroke-width="0.8"/><circle cx="7.5" cy="4.6" r="1.2" fill="#fff"/><path d="M4.2 2.6 L5.4 6.2 H9.6 L10.8 2.6" stroke="#fff" stroke-width="1.2" stroke-linejoin="round" stroke-linecap="round" fill="none"/><path d="M6.1 5.9 H8.9 V9.8 H8.6 V14 H7.7 V10.2 H7.3 V14 H6.4 V9.8 H6.1 Z" fill="#fff"/></svg></div>
<div class="t" style="left:127.90px;top:524.16px;font-size:5.72px;line-height:5.72px;font-weight:700;color:#111;">Maximum strength</div>
<div class="r" style="left:195.50px;top:519.10px;width:85.30px;height:13.40px;background:#ffffff;"></div>
<div class="r" style="left:197.50px;top:520.30px;width:15px;height:12.20px;overflow:hidden"><svg width="15" height="15" viewBox="0 0 15 15"><rect x="0" y="0" width="15" height="15" rx="1.6" fill="#7d7d7d"/><rect x="0.5" y="2.3" width="14" height="1.4" fill="rgba(255,255,255,0.55)"/><path d="M1.6 3.5 V13.5 M13.4 3.5 V13.5" stroke="rgba(255,255,255,0.3)" stroke-width="0.8"/><circle cx="7.5" cy="4.6" r="1.2" fill="#fff"/><path d="M4.2 2.6 L5.4 6.2 H9.6 L10.8 2.6" stroke="#fff" stroke-width="1.2" stroke-linejoin="round" stroke-linecap="round" fill="none"/><path d="M6.1 5.9 H8.9 V9.8 H8.6 V14 H7.7 V10.2 H7.3 V14 H6.4 V9.8 H6.1 Z" fill="#fff"/></svg></div>
<div class="t" style="left:214.70px;top:524.16px;font-size:5.72px;line-height:5.72px;font-weight:700;color:#111;">Core strength 1</div>
<div class="r" style="left:282.30px;top:519.10px;width:85.30px;height:13.40px;background:#ffffff;"></div>
<div class="r" style="left:284.30px;top:520.30px;width:15px;height:12.20px;overflow:hidden"><svg width="15" height="15" viewBox="0 0 15 15"><rect x="0" y="0" width="15" height="15" rx="1.6" fill="#7d7d7d"/><rect x="0.5" y="2.3" width="14" height="1.4" fill="rgba(255,255,255,0.55)"/><path d="M1.6 3.5 V13.5 M13.4 3.5 V13.5" stroke="rgba(255,255,255,0.3)" stroke-width="0.8"/><circle cx="7.5" cy="4.6" r="1.2" fill="#fff"/><path d="M4.2 2.6 L5.4 6.2 H9.6 L10.8 2.6" stroke="#fff" stroke-width="1.2" stroke-linejoin="round" stroke-linecap="round" fill="none"/><path d="M6.1 5.9 H8.9 V9.8 H8.6 V14 H7.7 V10.2 H7.3 V14 H6.4 V9.8 H6.1 Z" fill="#fff"/></svg></div>
<div class="t" style="left:301.50px;top:524.16px;font-size:5.72px;line-height:5.72px;font-weight:700;color:#111;">Core strength 2</div>
<div class="r" style="left:369.10px;top:519.10px;width:85.30px;height:13.40px;background:#ffffff;"></div>
<div class="r" style="left:371.10px;top:520.30px;width:15px;height:12.20px;overflow:hidden"><svg width="15" height="15" viewBox="0 0 15 15"><rect x="0" y="0" width="15" height="15" rx="1.6" fill="#7d7d7d"/><rect x="0.5" y="2.3" width="14" height="1.4" fill="rgba(255,255,255,0.55)"/><path d="M1.6 3.5 V13.5 M13.4 3.5 V13.5" stroke="rgba(255,255,255,0.3)" stroke-width="0.8"/><circle cx="7.5" cy="4.6" r="1.2" fill="#fff"/><path d="M4.2 2.6 L5.4 6.2 H9.6 L10.8 2.6" stroke="#fff" stroke-width="1.2" stroke-linejoin="round" stroke-linecap="round" fill="none"/><path d="M6.1 5.9 H8.9 V9.8 H8.6 V14 H7.7 V10.2 H7.3 V14 H6.4 V9.8 H6.1 Z" fill="#fff"/></svg></div>
<div class="t" style="left:388.30px;top:524.16px;font-size:5.72px;line-height:5.72px;font-weight:700;color:#111;">Endurance strength 1</div>
<div class="r" style="left:455.90px;top:519.10px;width:85.30px;height:13.40px;background:#ffffff;"></div>
<div class="r" style="left:457.90px;top:520.30px;width:15px;height:12.20px;overflow:hidden"><svg width="15" height="15" viewBox="0 0 15 15"><rect x="0" y="0" width="15" height="15" rx="1.6" fill="#7d7d7d"/><rect x="0.5" y="2.3" width="14" height="1.4" fill="rgba(255,255,255,0.55)"/><path d="M1.6 3.5 V13.5 M13.4 3.5 V13.5" stroke="rgba(255,255,255,0.3)" stroke-width="0.8"/><circle cx="7.5" cy="4.6" r="1.2" fill="#fff"/><path d="M4.2 2.6 L5.4 6.2 H9.6 L10.8 2.6" stroke="#fff" stroke-width="1.2" stroke-linejoin="round" stroke-linecap="round" fill="none"/><path d="M6.1 5.9 H8.9 V9.8 H8.6 V14 H7.7 V10.2 H7.3 V14 H6.4 V9.8 H6.1 Z" fill="#fff"/></svg></div>
<div class="t" style="left:475.10px;top:524.16px;font-size:5.72px;line-height:5.72px;font-weight:700;color:#111;">Flexibility</div>
<div class="r" style="left:542.70px;top:519.10px;width:85.30px;height:13.40px;background:#ffffff;"></div>
<div class="r" style="left:544.70px;top:520.30px;width:15px;height:12.20px;overflow:hidden"><svg width="15" height="15" viewBox="0 0 15 15"><rect x="0" y="0" width="15" height="15" rx="1.6" fill="#7d7d7d"/><circle cx="10.4" cy="4" r="1.4" fill="#fff"/><path d="M9.6 5.6 Q6.8 7 5.6 11 Q5.4 13 7.2 13.4 M9.6 5.6 L9.2 12" stroke="#fff" stroke-width="1.5" stroke-linecap="round" fill="none"/><path d="M7.2 13.4 L4 14" stroke="#fff" stroke-width="1" fill="none"/></svg></div>
<div class="t" style="left:561.90px;top:524.16px;font-size:5.72px;line-height:5.72px;font-weight:700;color:#111;">Stretching</div>
</body></html>
